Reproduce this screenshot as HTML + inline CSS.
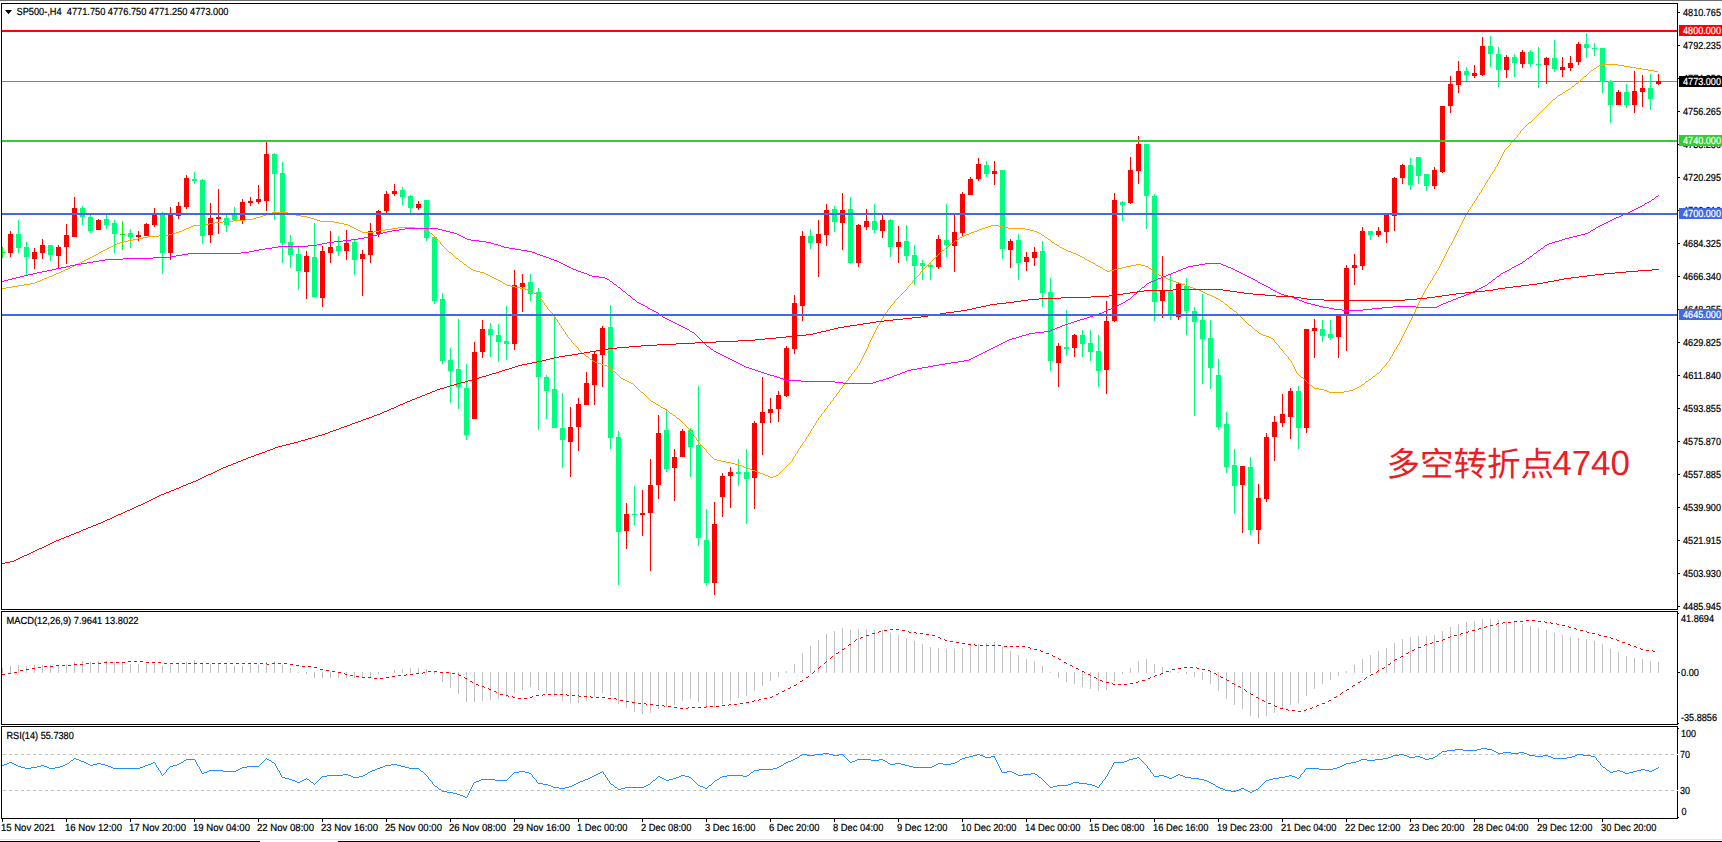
<!DOCTYPE html>
<html lang="zh"><head><meta charset="utf-8"><title>SP500-,H4</title>
<style>html,body{margin:0;padding:0;background:#fff;overflow:hidden}svg{display:block}text{font-family:"Liberation Sans","Noto Sans CJK SC",sans-serif;font-size:10.2px;white-space:pre;text-rendering:geometricPrecision}.ann{font-size:34px;font-family:"Liberation Sans","Noto Sans CJK SC",sans-serif}</style></head><body>
<svg width="1722" height="842" viewBox="0 0 1722 842">
<rect x="0" y="0" width="1722" height="842" fill="#fff"/>
<g shape-rendering="crispEdges">
<rect x="0" y="0" width="1722" height="1" fill="#6e6e6e"/>
<rect x="0" y="839" width="1722" height="1" fill="#e3e3e3"/>
<rect x="0" y="841" width="260" height="1" fill="#000"/>
<rect x="338" y="841" width="1384" height="1" fill="#000"/>
<rect x="2" y="81" width="1675" height="1" fill="#778899"/>
<g id="candles">
<path fill="#00ff00" d="M2 247h1v11h-1zM2 252h3v1h-3z"/>
<path fill="#ff0000" d="M10 231h1v26h-1zM8 234h5v19h-5z"/>
<path fill="#00ff7f" d="M18 220h1v33h-1zM16 234h5v14h-5z"/>
<path fill="#00ff7f" d="M26 242h1v33h-1zM24 247h5v10h-5z"/>
<path fill="#ff0000" d="M34 248h1v21h-1zM32 252h5v7h-5z"/>
<path fill="#ff0000" d="M42 239h1v20h-1zM40 245h5v8h-5z"/>
<path fill="#00ff7f" d="M50 245h1v16h-1zM48 245h5v10h-5z"/>
<path fill="#ff0000" d="M58 245h1v24h-1zM56 247h5v9h-5z"/>
<path fill="#ff0000" d="M66 224h1v40h-1zM64 235h5v12h-5z"/>
<path fill="#ff0000" d="M74 197h1v40h-1zM72 208h5v29h-5z"/>
<path fill="#00ff7f" d="M82 206h1v19h-1zM80 208h5v9h-5z"/>
<path fill="#00ff7f" d="M90 215h1v18h-1zM88 217h5v14h-5z"/>
<path fill="#ff0000" d="M98 219h1v11h-1zM96 220h5v10h-5z"/>
<path fill="#00ff7f" d="M106 215h1v14h-1zM104 219h5v6h-5z"/>
<path fill="#00ff7f" d="M114 220h1v33h-1zM112 223h5v11h-5z"/>
<path fill="#00ff00" d="M122 221h1v29h-1zM120 234h5v1h-5z"/>
<path fill="#00ff7f" d="M130 229h1v19h-1zM128 233h5v4h-5z"/>
<path fill="#ff0000" d="M138 231h1v10h-1zM136 235h5v2h-5z"/>
<path fill="#ff0000" d="M146 223h1v13h-1zM144 224h5v12h-5z"/>
<path fill="#ff0000" d="M154 208h1v19h-1zM152 215h5v10h-5z"/>
<path fill="#00ff7f" d="M162 212h1v62h-1zM160 215h5v38h-5z"/>
<path fill="#ff0000" d="M170 207h1v53h-1zM168 215h5v38h-5z"/>
<path fill="#ff0000" d="M178 202h1v17h-1zM176 206h5v10h-5z"/>
<path fill="#ff0000" d="M186 175h1v34h-1zM184 178h5v29h-5z"/>
<path fill="#00ff7f" d="M194 172h1v12h-1zM192 179h5v2h-5z"/>
<path fill="#00ff7f" d="M202 179h1v65h-1zM200 180h5v56h-5z"/>
<path fill="#ff0000" d="M210 203h1v40h-1zM208 218h5v17h-5z"/>
<path fill="#ff0000" d="M218 189h1v45h-1zM216 217h5v2h-5z"/>
<path fill="#00ff7f" d="M226 215h1v17h-1zM224 218h5v7h-5z"/>
<path fill="#00ff7f" d="M234 207h1v13h-1zM232 214h5v6h-5z"/>
<path fill="#ff0000" d="M242 199h1v25h-1zM240 202h5v18h-5z"/>
<path fill="#ff0000" d="M250 197h1v9h-1zM248 201h5v2h-5z"/>
<path fill="#ff0000" d="M258 185h1v19h-1zM256 199h5v3h-5z"/>
<path fill="#ff0000" d="M266 142h1v69h-1zM264 154h5v47h-5z"/>
<path fill="#00ff7f" d="M274 153h1v67h-1zM272 154h5v20h-5z"/>
<path fill="#00ff7f" d="M282 162h1v101h-1zM280 173h5v70h-5z"/>
<path fill="#00ff7f" d="M290 235h1v33h-1zM288 242h5v13h-5z"/>
<path fill="#00ff7f" d="M298 247h1v43h-1zM296 254h5v17h-5z"/>
<path fill="#ff0000" d="M306 251h1v48h-1zM304 256h5v16h-5z"/>
<path fill="#00ff7f" d="M314 223h1v75h-1zM312 257h5v40h-5z"/>
<path fill="#ff0000" d="M322 246h1v61h-1zM320 251h5v47h-5z"/>
<path fill="#ff0000" d="M330 231h1v32h-1zM328 247h5v6h-5z"/>
<path fill="#00ff7f" d="M338 236h1v20h-1zM336 246h5v5h-5z"/>
<path fill="#ff0000" d="M346 230h1v30h-1zM344 243h5v8h-5z"/>
<path fill="#00ff7f" d="M354 239h1v36h-1zM352 242h5v18h-5z"/>
<path fill="#ff0000" d="M362 250h1v46h-1zM360 254h5v5h-5z"/>
<path fill="#ff0000" d="M370 223h1v40h-1zM368 231h5v24h-5z"/>
<path fill="#ff0000" d="M378 210h1v27h-1zM376 211h5v23h-5z"/>
<path fill="#ff0000" d="M386 191h1v22h-1zM384 194h5v17h-5z"/>
<path fill="#ff0000" d="M394 184h1v12h-1zM392 191h5v3h-5z"/>
<path fill="#00ff7f" d="M402 187h1v18h-1zM400 190h5v7h-5z"/>
<path fill="#00ff7f" d="M410 195h1v18h-1zM408 196h5v12h-5z"/>
<path fill="#ff0000" d="M418 201h1v9h-1zM416 204h5v4h-5z"/>
<path fill="#00ff7f" d="M426 200h1v41h-1zM424 200h5v38h-5z"/>
<path fill="#00ff7f" d="M434 237h1v67h-1zM432 237h5v64h-5z"/>
<path fill="#00ff7f" d="M442 293h1v71h-1zM440 299h5v62h-5z"/>
<path fill="#00ff7f" d="M450 348h1v55h-1zM448 360h5v11h-5z"/>
<path fill="#00ff7f" d="M458 319h1v90h-1zM456 369h5v18h-5z"/>
<path fill="#00ff7f" d="M466 364h1v76h-1zM464 388h5v47h-5z"/>
<path fill="#ff0000" d="M474 342h1v77h-1zM472 352h5v67h-5z"/>
<path fill="#ff0000" d="M482 320h1v38h-1zM480 329h5v23h-5z"/>
<path fill="#00ff7f" d="M490 323h1v34h-1zM488 329h5v6h-5z"/>
<path fill="#00ff7f" d="M498 324h1v38h-1zM496 335h5v7h-5z"/>
<path fill="#00ff7f" d="M506 306h1v54h-1zM504 341h5v3h-5z"/>
<path fill="#ff0000" d="M514 270h1v80h-1zM512 285h5v59h-5z"/>
<path fill="#ff0000" d="M522 274h1v38h-1zM520 283h5v4h-5z"/>
<path fill="#00ff7f" d="M530 274h1v27h-1zM528 282h5v12h-5z"/>
<path fill="#00ff7f" d="M538 288h1v142h-1zM536 292h5v85h-5z"/>
<path fill="#00ff7f" d="M546 375h1v44h-1zM544 377h5v14h-5z"/>
<path fill="#00ff7f" d="M554 316h1v112h-1zM552 389h5v39h-5z"/>
<path fill="#00ff7f" d="M562 393h1v75h-1zM560 428h5v12h-5z"/>
<path fill="#ff0000" d="M570 407h1v70h-1zM568 427h5v15h-5z"/>
<path fill="#ff0000" d="M578 398h1v53h-1zM576 404h5v23h-5z"/>
<path fill="#ff0000" d="M586 372h1v33h-1zM584 383h5v22h-5z"/>
<path fill="#ff0000" d="M594 352h1v53h-1zM592 354h5v31h-5z"/>
<path fill="#ff0000" d="M602 326h1v61h-1zM600 328h5v27h-5z"/>
<path fill="#00ff7f" d="M610 305h1v144h-1zM608 327h5v111h-5z"/>
<path fill="#00ff7f" d="M618 431h1v154h-1zM616 437h5v95h-5z"/>
<path fill="#ff0000" d="M626 503h1v46h-1zM624 514h5v17h-5z"/>
<path fill="#00ff7f" d="M634 486h1v39h-1zM632 514h5v1h-5z"/>
<path fill="#ff0000" d="M642 490h1v46h-1zM640 513h5v2h-5z"/>
<path fill="#ff0000" d="M650 459h1v112h-1zM648 485h5v28h-5z"/>
<path fill="#ff0000" d="M658 415h1v84h-1zM656 433h5v52h-5z"/>
<path fill="#00ff7f" d="M666 409h1v63h-1zM664 430h5v39h-5z"/>
<path fill="#ff0000" d="M674 449h1v52h-1zM672 457h5v11h-5z"/>
<path fill="#ff0000" d="M682 429h1v28h-1zM680 431h5v26h-5z"/>
<path fill="#00ff7f" d="M690 428h1v49h-1zM688 430h5v17h-5z"/>
<path fill="#00ff7f" d="M698 386h1v160h-1zM696 445h5v93h-5z"/>
<path fill="#00ff7f" d="M706 509h1v77h-1zM704 540h5v43h-5z"/>
<path fill="#ff0000" d="M714 502h1v93h-1zM712 524h5v59h-5z"/>
<path fill="#ff0000" d="M722 473h1v44h-1zM720 476h5v21h-5z"/>
<path fill="#ff0000" d="M730 467h1v41h-1zM728 472h5v4h-5z"/>
<path fill="#00ff7f" d="M738 459h1v27h-1zM736 472h5v2h-5z"/>
<path fill="#00ff7f" d="M746 449h1v75h-1zM744 472h5v7h-5z"/>
<path fill="#ff0000" d="M754 421h1v88h-1zM752 423h5v55h-5z"/>
<path fill="#ff0000" d="M762 377h1v78h-1zM760 412h5v11h-5z"/>
<path fill="#ff0000" d="M770 398h1v25h-1zM768 409h5v4h-5z"/>
<path fill="#ff0000" d="M778 391h1v31h-1zM776 395h5v14h-5z"/>
<path fill="#ff0000" d="M786 346h1v51h-1zM784 348h5v48h-5z"/>
<path fill="#ff0000" d="M794 295h1v59h-1zM792 303h5v46h-5z"/>
<path fill="#ff0000" d="M802 231h1v90h-1zM800 236h5v70h-5z"/>
<path fill="#00ff7f" d="M810 229h1v20h-1zM808 236h5v7h-5z"/>
<path fill="#ff0000" d="M818 220h1v57h-1zM816 234h5v9h-5z"/>
<path fill="#ff0000" d="M826 204h1v42h-1zM824 210h5v25h-5z"/>
<path fill="#00ff7f" d="M834 206h1v26h-1zM832 209h5v13h-5z"/>
<path fill="#ff0000" d="M842 193h1v57h-1zM840 210h5v13h-5z"/>
<path fill="#00ff7f" d="M850 197h1v67h-1zM848 209h5v54h-5z"/>
<path fill="#ff0000" d="M858 224h1v43h-1zM856 225h5v38h-5z"/>
<path fill="#ff0000" d="M866 209h1v21h-1zM864 221h5v6h-5z"/>
<path fill="#00ff7f" d="M874 204h1v29h-1zM872 221h5v9h-5z"/>
<path fill="#ff0000" d="M882 215h1v23h-1zM880 220h5v11h-5z"/>
<path fill="#00ff7f" d="M890 219h1v38h-1zM888 220h5v27h-5z"/>
<path fill="#ff0000" d="M898 226h1v37h-1zM896 242h5v5h-5z"/>
<path fill="#00ff7f" d="M906 225h1v36h-1zM904 241h5v15h-5z"/>
<path fill="#00ff7f" d="M914 245h1v40h-1zM912 255h5v11h-5z"/>
<path fill="#00ff7f" d="M922 260h1v20h-1zM920 263h5v3h-5z"/>
<path fill="#00ff7f" d="M930 263h1v17h-1zM928 265h5v2h-5z"/>
<path fill="#ff0000" d="M938 235h1v34h-1zM936 239h5v28h-5z"/>
<path fill="#00ff7f" d="M946 204h1v53h-1zM944 240h5v5h-5z"/>
<path fill="#ff0000" d="M954 215h1v57h-1zM952 232h5v14h-5z"/>
<path fill="#ff0000" d="M962 192h1v44h-1zM960 194h5v39h-5z"/>
<path fill="#ff0000" d="M970 177h1v18h-1zM968 179h5v16h-5z"/>
<path fill="#ff0000" d="M978 158h1v23h-1zM976 164h5v15h-5z"/>
<path fill="#00ff7f" d="M986 161h1v16h-1zM984 165h5v9h-5z"/>
<path fill="#ff0000" d="M994 161h1v24h-1zM992 171h5v3h-5z"/>
<path fill="#00ff7f" d="M1002 170h1v89h-1zM1000 170h5v79h-5z"/>
<path fill="#ff0000" d="M1010 239h1v29h-1zM1008 241h5v9h-5z"/>
<path fill="#00ff7f" d="M1018 234h1v46h-1zM1016 240h5v23h-5z"/>
<path fill="#ff0000" d="M1026 252h1v19h-1zM1024 257h5v5h-5z"/>
<path fill="#ff0000" d="M1034 247h1v19h-1zM1032 252h5v6h-5z"/>
<path fill="#00ff7f" d="M1042 241h1v66h-1zM1040 251h5v42h-5z"/>
<path fill="#00ff7f" d="M1050 278h1v93h-1zM1048 292h5v69h-5z"/>
<path fill="#ff0000" d="M1058 343h1v44h-1zM1056 346h5v17h-5z"/>
<path fill="#00ff7f" d="M1066 310h1v45h-1zM1064 347h5v2h-5z"/>
<path fill="#ff0000" d="M1074 334h1v23h-1zM1072 335h5v13h-5z"/>
<path fill="#00ff7f" d="M1082 330h1v27h-1zM1080 335h5v9h-5z"/>
<path fill="#00ff7f" d="M1090 330h1v31h-1zM1088 343h5v9h-5z"/>
<path fill="#00ff7f" d="M1098 335h1v52h-1zM1096 351h5v20h-5z"/>
<path fill="#ff0000" d="M1106 301h1v93h-1zM1104 321h5v49h-5z"/>
<path fill="#ff0000" d="M1114 193h1v129h-1zM1112 200h5v121h-5z"/>
<path fill="#00ff7f" d="M1122 201h1v20h-1zM1120 202h5v3h-5z"/>
<path fill="#ff0000" d="M1130 157h1v47h-1zM1128 170h5v33h-5z"/>
<path fill="#ff0000" d="M1138 136h1v48h-1zM1136 144h5v27h-5z"/>
<path fill="#00ff7f" d="M1146 144h1v85h-1zM1144 144h5v52h-5z"/>
<path fill="#00ff7f" d="M1154 194h1v127h-1zM1152 196h5v106h-5z"/>
<path fill="#ff0000" d="M1162 256h1v62h-1zM1160 290h5v11h-5z"/>
<path fill="#00ff7f" d="M1170 274h1v46h-1zM1168 291h5v24h-5z"/>
<path fill="#ff0000" d="M1178 283h1v37h-1zM1176 284h5v33h-5z"/>
<path fill="#00ff7f" d="M1186 278h1v57h-1zM1184 286h5v25h-5z"/>
<path fill="#00ff7f" d="M1194 307h1v109h-1zM1192 311h5v11h-5z"/>
<path fill="#00ff7f" d="M1202 294h1v90h-1zM1200 320h5v19h-5z"/>
<path fill="#00ff7f" d="M1210 320h1v69h-1zM1208 338h5v30h-5z"/>
<path fill="#00ff7f" d="M1218 359h1v71h-1zM1216 375h5v52h-5z"/>
<path fill="#00ff7f" d="M1226 412h1v61h-1zM1224 424h5v43h-5z"/>
<path fill="#00ff7f" d="M1234 449h1v65h-1zM1232 465h5v21h-5z"/>
<path fill="#ff0000" d="M1242 466h1v67h-1zM1240 466h5v19h-5z"/>
<path fill="#00ff7f" d="M1250 457h1v78h-1zM1248 467h5v63h-5z"/>
<path fill="#ff0000" d="M1258 484h1v60h-1zM1256 498h5v32h-5z"/>
<path fill="#ff0000" d="M1266 433h1v69h-1zM1264 437h5v62h-5z"/>
<path fill="#ff0000" d="M1274 416h1v45h-1zM1272 422h5v15h-5z"/>
<path fill="#ff0000" d="M1282 394h1v33h-1zM1280 414h5v9h-5z"/>
<path fill="#ff0000" d="M1290 388h1v51h-1zM1288 391h5v26h-5z"/>
<path fill="#00ff7f" d="M1298 386h1v63h-1zM1296 391h5v37h-5z"/>
<path fill="#ff0000" d="M1306 329h1v104h-1zM1304 329h5v99h-5z"/>
<path fill="#ff0000" d="M1314 319h1v39h-1zM1312 328h5v3h-5z"/>
<path fill="#00ff7f" d="M1322 320h1v22h-1zM1320 329h5v7h-5z"/>
<path fill="#00ff7f" d="M1330 320h1v20h-1zM1328 334h5v4h-5z"/>
<path fill="#ff0000" d="M1338 315h1v43h-1zM1336 315h5v22h-5z"/>
<path fill="#ff0000" d="M1346 265h1v86h-1zM1344 268h5v46h-5z"/>
<path fill="#ff0000" d="M1354 254h1v31h-1zM1352 265h5v3h-5z"/>
<path fill="#ff0000" d="M1362 227h1v43h-1zM1360 231h5v35h-5z"/>
<path fill="#00ff7f" d="M1370 231h1v9h-1zM1368 231h5v4h-5z"/>
<path fill="#ff0000" d="M1378 227h1v10h-1zM1376 231h5v4h-5z"/>
<path fill="#ff0000" d="M1386 214h1v29h-1zM1384 215h5v17h-5z"/>
<path fill="#ff0000" d="M1394 177h1v54h-1zM1392 178h5v38h-5z"/>
<path fill="#ff0000" d="M1402 164h1v20h-1zM1400 165h5v13h-5z"/>
<path fill="#00ff7f" d="M1410 158h1v32h-1zM1408 165h5v20h-5z"/>
<path fill="#00ff7f" d="M1418 157h1v27h-1zM1416 157h5v19h-5z"/>
<path fill="#00ff7f" d="M1426 174h1v17h-1zM1424 174h5v12h-5z"/>
<path fill="#ff0000" d="M1434 167h1v22h-1zM1432 170h5v16h-5z"/>
<path fill="#ff0000" d="M1442 106h1v67h-1zM1440 106h5v66h-5z"/>
<path fill="#ff0000" d="M1450 76h1v37h-1zM1448 84h5v22h-5z"/>
<path fill="#ff0000" d="M1458 61h1v32h-1zM1456 71h5v14h-5z"/>
<path fill="#00ff7f" d="M1466 67h1v14h-1zM1464 71h5v4h-5z"/>
<path fill="#ff0000" d="M1474 65h1v13h-1zM1472 73h5v3h-5z"/>
<path fill="#ff0000" d="M1482 37h1v39h-1zM1480 46h5v29h-5z"/>
<path fill="#00ff7f" d="M1490 36h1v31h-1zM1488 46h5v8h-5z"/>
<path fill="#00ff7f" d="M1498 47h1v40h-1zM1496 54h5v16h-5z"/>
<path fill="#ff0000" d="M1506 55h1v23h-1zM1504 57h5v13h-5z"/>
<path fill="#00ff7f" d="M1514 54h1v23h-1zM1512 57h5v6h-5z"/>
<path fill="#ff0000" d="M1522 50h1v18h-1zM1520 52h5v12h-5z"/>
<path fill="#00ff7f" d="M1530 50h1v17h-1zM1528 52h5v12h-5z"/>
<path fill="#00ff7f" d="M1538 47h1v41h-1zM1536 64h5v1h-5z"/>
<path fill="#ff0000" d="M1546 57h1v27h-1zM1544 58h5v7h-5z"/>
<path fill="#00ff7f" d="M1554 40h1v32h-1zM1552 58h5v11h-5z"/>
<path fill="#ff0000" d="M1562 57h1v20h-1zM1560 67h5v3h-5z"/>
<path fill="#ff0000" d="M1570 56h1v15h-1zM1568 63h5v5h-5z"/>
<path fill="#ff0000" d="M1578 42h1v23h-1zM1576 44h5v18h-5z"/>
<path fill="#00ff7f" d="M1586 33h1v25h-1zM1584 44h5v4h-5z"/>
<path fill="#00ff7f" d="M1594 43h1v13h-1zM1592 48h5v1h-5z"/>
<path fill="#00ff7f" d="M1602 48h1v45h-1zM1600 48h5v34h-5z"/>
<path fill="#00ff7f" d="M1610 80h1v43h-1zM1608 81h5v24h-5z"/>
<path fill="#ff0000" d="M1618 90h1v15h-1zM1616 92h5v13h-5z"/>
<path fill="#00ff7f" d="M1626 84h1v24h-1zM1624 92h5v13h-5z"/>
<path fill="#ff0000" d="M1634 71h1v42h-1zM1632 91h5v14h-5z"/>
<path fill="#ff0000" d="M1642 75h1v32h-1zM1640 88h5v4h-5z"/>
<path fill="#00ff7f" d="M1650 74h1v36h-1zM1648 88h5v11h-5z"/>
<path fill="#ff0000" d="M1658 74h1v11h-1zM1656 81h5v3h-5z"/>
</g>
<g id="ma">
<path fill="#ffa500" d="M1602 64h16v1h-16zM1599 65h3v1h-3zM1618 65h6v1h-6zM1597 66h2v1h-2zM1624 66h6v1h-6zM1630 67h6v1h-6zM1594 68h2v1h-2zM1636 68h6v1h-6zM1642 69h6v1h-6zM1591 70h2v1h-2zM1648 70h6v1h-6zM1654 71h4v1h-4zM1584 76h2v1h-2zM1576 83h2v1h-2zM1572 86h2v1h-2zM1568 89h2v1h-2zM1566 90h2v1h-2zM1563 92h2v1h-2zM1560 94h2v1h-2zM1558 95h2v1h-2zM1553 99h2v1h-2zM1529 122h2v1h-2zM272 212h16v1h-16zM269 213h3v1h-3zM288 213h4v1h-4zM266 214h3v1h-3zM292 214h4v1h-4zM263 215h3v1h-3zM296 215h5v1h-5zM260 216h3v1h-3zM301 216h6v1h-6zM256 217h4v1h-4zM307 217h4v1h-4zM253 218h3v1h-3zM311 218h3v1h-3zM245 219h8v1h-8zM314 219h3v1h-3zM233 220h12v1h-12zM317 220h3v1h-3zM223 221h10v1h-10zM320 221h14v1h-14zM215 222h8v1h-8zM334 222h5v1h-5zM209 223h6v1h-6zM339 223h5v1h-5zM205 224h4v1h-4zM344 224h4v1h-4zM193 225h12v1h-12zM348 225h2v1h-2zM991 225h8v1h-8zM191 226h2v1h-2zM350 226h2v1h-2zM988 226h3v1h-3zM999 226h4v1h-4zM189 227h2v1h-2zM352 227h2v1h-2zM398 227h17v1h-17zM985 227h3v1h-3zM1003 227h5v1h-5zM186 228h3v1h-3zM354 228h2v1h-2zM392 228h6v1h-6zM415 228h9v1h-9zM982 228h3v1h-3zM1008 228h17v1h-17zM184 229h2v1h-2zM356 229h2v1h-2zM385 229h7v1h-7zM424 229h2v1h-2zM979 229h3v1h-3zM1025 229h5v1h-5zM182 230h2v1h-2zM358 230h2v1h-2zM379 230h6v1h-6zM426 230h2v1h-2zM977 230h2v1h-2zM1030 230h4v1h-4zM179 231h3v1h-3zM360 231h2v1h-2zM374 231h5v1h-5zM974 231h3v1h-3zM1034 231h3v1h-3zM176 232h3v1h-3zM362 232h12v1h-12zM971 232h3v1h-3zM1037 232h2v1h-2zM172 233h4v1h-4zM430 233h2v1h-2zM969 233h2v1h-2zM1039 233h2v1h-2zM169 234h3v1h-3zM966 234h3v1h-3zM159 235h10v1h-10zM964 235h2v1h-2zM1042 235h2v1h-2zM148 236h11v1h-11zM962 236h2v1h-2zM143 237h5v1h-5zM960 237h2v1h-2zM1045 237h2v1h-2zM138 238h5v1h-5zM133 239h5v1h-5zM957 239h2v1h-2zM1048 239h2v1h-2zM128 240h5v1h-5zM955 240h2v1h-2zM124 241h4v1h-4zM120 242h4v1h-4zM1052 242h2v1h-2zM117 243h3v1h-3zM951 243h2v1h-2zM115 244h2v1h-2zM1055 244h2v1h-2zM113 245h2v1h-2zM1057 245h2v1h-2zM111 246h2v1h-2zM109 247h2v1h-2zM946 247h2v1h-2zM1060 247h2v1h-2zM107 248h2v1h-2zM1062 248h2v1h-2zM105 249h2v1h-2zM1064 249h2v1h-2zM103 250h2v1h-2zM942 250h2v1h-2zM1066 250h2v1h-2zM101 251h2v1h-2zM1068 251h3v1h-3zM99 252h2v1h-2zM449 252h2v1h-2zM1071 252h2v1h-2zM1073 253h3v1h-3zM96 254h2v1h-2zM1076 254h2v1h-2zM94 255h2v1h-2zM1078 255h2v1h-2zM92 256h2v1h-2zM1080 256h2v1h-2zM90 257h2v1h-2zM1082 257h2v1h-2zM88 258h2v1h-2zM456 258h2v1h-2zM86 259h2v1h-2zM1085 259h2v1h-2zM84 260h2v1h-2zM1087 260h2v1h-2zM82 261h2v1h-2zM460 261h2v1h-2zM1089 261h2v1h-2zM80 262h2v1h-2zM1091 262h2v1h-2zM78 263h2v1h-2zM1093 263h2v1h-2zM76 264h2v1h-2zM464 264h2v1h-2zM1136 264h5v1h-5zM74 265h2v1h-2zM1096 265h2v1h-2zM1131 265h5v1h-5zM1141 265h4v1h-4zM72 266h2v1h-2zM1098 266h2v1h-2zM1126 266h5v1h-5zM1145 266h3v1h-3zM70 267h2v1h-2zM468 267h2v1h-2zM1100 267h2v1h-2zM1122 267h4v1h-4zM68 268h2v1h-2zM1118 268h4v1h-4zM1149 268h2v1h-2zM65 269h3v1h-3zM471 269h2v1h-2zM1103 269h2v1h-2zM1114 269h4v1h-4zM63 270h2v1h-2zM473 270h3v1h-3zM1105 270h2v1h-2zM1110 270h4v1h-4zM61 271h2v1h-2zM476 271h4v1h-4zM1107 271h3v1h-3zM59 272h2v1h-2zM480 272h4v1h-4zM1154 272h2v1h-2zM56 273h3v1h-3zM484 273h2v1h-2zM54 274h2v1h-2zM486 274h2v1h-2zM1157 274h2v1h-2zM52 275h2v1h-2zM488 275h2v1h-2zM1159 275h2v1h-2zM49 276h3v1h-3zM490 276h2v1h-2zM1161 276h3v1h-3zM47 277h2v1h-2zM492 277h2v1h-2zM1164 277h2v1h-2zM44 278h3v1h-3zM494 278h2v1h-2zM1166 278h2v1h-2zM42 279h2v1h-2zM496 279h2v1h-2zM1168 279h3v1h-3zM40 280h2v1h-2zM498 280h2v1h-2zM1171 280h2v1h-2zM37 281h3v1h-3zM500 281h2v1h-2zM1173 281h3v1h-3zM35 282h2v1h-2zM1176 282h3v1h-3zM30 283h5v1h-5zM503 283h2v1h-2zM1179 283h3v1h-3zM24 284h6v1h-6zM505 284h2v1h-2zM1182 284h3v1h-3zM18 285h6v1h-6zM507 285h4v1h-4zM1185 285h2v1h-2zM12 286h6v1h-6zM511 286h4v1h-4zM1187 286h3v1h-3zM6 287h6v1h-6zM515 287h5v1h-5zM1190 287h3v1h-3zM2 288h4v1h-4zM520 288h5v1h-5zM1193 288h3v1h-3zM525 289h4v1h-4zM1196 289h3v1h-3zM529 290h2v1h-2zM1199 290h2v1h-2zM531 291h2v1h-2zM1201 291h2v1h-2zM1203 292h2v1h-2zM534 293h2v1h-2zM1205 293h2v1h-2zM1207 294h3v1h-3zM537 295h2v1h-2zM1210 295h2v1h-2zM1212 296h2v1h-2zM1214 297h2v1h-2zM1216 298h2v1h-2zM1218 299h2v1h-2zM1221 301h2v1h-2zM1225 304h2v1h-2zM1230 308h2v1h-2zM1234 311h2v1h-2zM1249 325h2v1h-2zM1255 330h2v1h-2zM1259 333h2v1h-2zM1261 334h2v1h-2zM1263 335h3v1h-3zM1266 336h3v1h-3zM1269 337h2v1h-2zM1271 338h2v1h-2zM582 353h2v1h-2zM586 356h2v1h-2zM590 359h2v1h-2zM593 361h2v1h-2zM595 362h3v1h-3zM598 363h3v1h-3zM601 364h3v1h-3zM604 365h3v1h-3zM607 366h2v1h-2zM613 371h2v1h-2zM1377 373h2v1h-2zM1373 376h2v1h-2zM1301 377h2v1h-2zM621 378h2v1h-2zM623 379h2v1h-2zM1369 379h2v1h-2zM625 380h2v1h-2zM627 381h2v1h-2zM1366 381h2v1h-2zM629 382h2v1h-2zM631 383h2v1h-2zM1362 384h2v1h-2zM1310 385h2v1h-2zM1359 386h2v1h-2zM1357 387h2v1h-2zM1314 388h5v1h-5zM1355 388h2v1h-2zM1319 389h5v1h-5zM1353 389h2v1h-2zM1324 390h3v1h-3zM1349 390h4v1h-4zM1327 391h2v1h-2zM1344 391h5v1h-5zM641 392h2v1h-2zM1329 392h15v1h-15zM651 401h2v1h-2zM653 402h2v1h-2zM656 404h2v1h-2zM658 405h2v1h-2zM661 407h2v1h-2zM663 408h2v1h-2zM666 410h2v1h-2zM670 413h2v1h-2zM673 415h2v1h-2zM677 418h2v1h-2zM714 459h3v1h-3zM717 460h4v1h-4zM721 461h5v1h-5zM726 462h5v1h-5zM731 463h4v1h-4zM735 464h4v1h-4zM739 465h3v1h-3zM742 466h2v1h-2zM744 467h3v1h-3zM747 468h3v1h-3zM750 469h2v1h-2zM752 470h3v1h-3zM755 471h3v1h-3zM758 472h2v1h-2zM760 473h3v1h-3zM763 474h2v1h-2zM765 475h3v1h-3zM776 475h2v1h-2zM768 476h2v1h-2zM773 476h3v1h-3zM770 477h3v1h-3zM98 253h1v1h-1zM428 231h1v1h-1zM429 232h1v1h-1zM432 234h1v1h-1zM433 235h1v1h-1zM434 236h1v1h-1zM435 237h1v1h-1zM436 238h1v1h-1zM437 239h1v1h-1zM438 240h1v1h-1zM439 241h1v1h-1zM440 242h1v2h-1zM441 244h1v1h-1zM442 245h1v1h-1zM443 246h1v1h-1zM444 247h1v1h-1zM445 248h1v1h-1zM446 249h1v1h-1zM447 250h1v1h-1zM448 251h1v1h-1zM451 253h1v1h-1zM452 254h1v1h-1zM453 255h1v1h-1zM454 256h1v1h-1zM455 257h1v1h-1zM458 259h1v1h-1zM459 260h1v1h-1zM462 262h1v1h-1zM463 263h1v1h-1zM466 265h1v1h-1zM467 266h1v1h-1zM470 268h1v1h-1zM502 282h1v1h-1zM533 292h1v1h-1zM536 294h1v1h-1zM539 296h1v1h-1zM540 297h1v2h-1zM541 299h1v1h-1zM542 300h1v2h-1zM543 302h1v1h-1zM544 303h1v2h-1zM545 305h1v1h-1zM546 306h1v1h-1zM547 307h1v2h-1zM548 309h1v1h-1zM549 310h1v1h-1zM550 311h1v1h-1zM551 312h1v1h-1zM552 313h1v2h-1zM553 315h1v1h-1zM554 316h1v1h-1zM555 317h1v2h-1zM556 319h1v1h-1zM557 320h1v2h-1zM558 322h1v1h-1zM559 323h1v2h-1zM560 325h1v1h-1zM561 326h1v2h-1zM562 328h1v1h-1zM563 329h1v2h-1zM564 331h1v1h-1zM565 332h1v2h-1zM566 334h1v1h-1zM567 335h1v2h-1zM568 337h1v1h-1zM569 338h1v1h-1zM570 339h1v1h-1zM571 340h1v2h-1zM572 342h1v1h-1zM573 343h1v1h-1zM574 344h1v1h-1zM575 345h1v1h-1zM576 346h1v1h-1zM577 347h1v1h-1zM578 348h1v2h-1zM579 350h1v1h-1zM580 351h1v1h-1zM581 352h1v1h-1zM584 354h1v1h-1zM585 355h1v1h-1zM588 357h1v1h-1zM589 358h1v1h-1zM592 360h1v1h-1zM609 367h1v1h-1zM610 368h1v1h-1zM611 369h1v1h-1zM612 370h1v1h-1zM615 372h1v1h-1zM616 373h1v1h-1zM617 374h1v1h-1zM618 375h1v1h-1zM619 376h1v1h-1zM620 377h1v1h-1zM633 384h1v1h-1zM634 385h1v1h-1zM635 386h1v1h-1zM636 387h1v1h-1zM637 388h1v1h-1zM638 389h1v1h-1zM639 390h1v1h-1zM640 391h1v1h-1zM643 393h1v1h-1zM644 394h1v1h-1zM645 395h1v1h-1zM646 396h1v1h-1zM647 397h1v1h-1zM648 398h1v1h-1zM649 399h1v1h-1zM650 400h1v1h-1zM655 403h1v1h-1zM660 406h1v1h-1zM665 409h1v1h-1zM668 411h1v1h-1zM669 412h1v1h-1zM672 414h1v1h-1zM675 416h1v1h-1zM676 417h1v1h-1zM679 419h1v1h-1zM680 420h1v1h-1zM681 421h1v1h-1zM682 422h1v1h-1zM683 423h1v1h-1zM684 424h1v1h-1zM685 425h1v1h-1zM686 426h1v1h-1zM687 427h1v1h-1zM688 428h1v1h-1zM689 429h1v1h-1zM690 430h1v1h-1zM691 431h1v2h-1zM692 433h1v1h-1zM693 434h1v2h-1zM694 436h1v1h-1zM695 437h1v1h-1zM696 438h1v2h-1zM697 440h1v1h-1zM698 441h1v2h-1zM699 443h1v1h-1zM700 444h1v1h-1zM701 445h1v1h-1zM702 446h1v1h-1zM703 447h1v1h-1zM704 448h1v1h-1zM705 449h1v1h-1zM706 450h1v2h-1zM707 452h1v1h-1zM708 453h1v1h-1zM709 454h1v1h-1zM710 455h1v1h-1zM711 456h1v1h-1zM712 457h1v1h-1zM713 458h1v1h-1zM778 474h1v1h-1zM779 473h1v1h-1zM780 472h1v1h-1zM781 471h1v1h-1zM782 470h1v1h-1zM783 469h1v1h-1zM784 468h1v1h-1zM785 467h1v1h-1zM786 466h1v1h-1zM787 465h1v1h-1zM788 464h1v1h-1zM789 463h1v1h-1zM790 462h1v1h-1zM791 461h1v1h-1zM792 459h1v2h-1zM793 457h1v2h-1zM794 456h1v1h-1zM795 454h1v2h-1zM796 453h1v1h-1zM797 451h1v2h-1zM798 449h1v2h-1zM799 448h1v1h-1zM800 446h1v2h-1zM801 445h1v1h-1zM802 443h1v2h-1zM803 442h1v1h-1zM804 441h1v1h-1zM805 439h1v2h-1zM806 437h1v2h-1zM807 436h1v1h-1zM808 434h1v2h-1zM809 433h1v1h-1zM810 431h1v2h-1zM811 429h1v2h-1zM812 428h1v1h-1zM813 426h1v2h-1zM814 425h1v1h-1zM815 423h1v2h-1zM816 421h1v2h-1zM817 420h1v1h-1zM818 418h1v2h-1zM819 417h1v1h-1zM820 416h1v1h-1zM821 414h1v2h-1zM822 413h1v1h-1zM823 412h1v1h-1zM824 410h1v2h-1zM825 409h1v1h-1zM826 408h1v1h-1zM827 406h1v2h-1zM828 405h1v1h-1zM829 404h1v1h-1zM830 402h1v2h-1zM831 401h1v1h-1zM832 400h1v1h-1zM833 398h1v2h-1zM834 397h1v1h-1zM835 396h1v1h-1zM836 394h1v2h-1zM837 393h1v1h-1zM838 392h1v1h-1zM839 390h1v2h-1zM840 389h1v1h-1zM841 388h1v1h-1zM842 386h1v2h-1zM843 385h1v1h-1zM844 384h1v1h-1zM845 382h1v2h-1zM846 381h1v1h-1zM847 380h1v1h-1zM848 378h1v2h-1zM849 377h1v1h-1zM850 376h1v1h-1zM851 374h1v2h-1zM852 373h1v1h-1zM853 372h1v1h-1zM854 370h1v2h-1zM855 369h1v1h-1zM856 368h1v1h-1zM857 366h1v2h-1zM858 365h1v1h-1zM859 363h1v2h-1zM860 361h1v2h-1zM861 359h1v2h-1zM862 357h1v2h-1zM863 355h1v2h-1zM864 353h1v2h-1zM865 351h1v2h-1zM866 349h1v2h-1zM867 347h1v2h-1zM868 344h1v3h-1zM869 342h1v2h-1zM870 340h1v2h-1zM871 338h1v2h-1zM872 336h1v2h-1zM873 334h1v2h-1zM874 332h1v2h-1zM875 330h1v2h-1zM876 328h1v2h-1zM877 326h1v2h-1zM878 325h1v1h-1zM879 323h1v2h-1zM880 321h1v2h-1zM881 319h1v2h-1zM882 318h1v1h-1zM883 316h1v2h-1zM884 314h1v2h-1zM885 313h1v1h-1zM886 312h1v1h-1zM887 310h1v2h-1zM888 309h1v1h-1zM889 308h1v1h-1zM890 306h1v2h-1zM891 305h1v1h-1zM892 304h1v1h-1zM893 303h1v1h-1zM894 301h1v2h-1zM895 300h1v1h-1zM896 299h1v1h-1zM897 298h1v1h-1zM898 297h1v1h-1zM899 296h1v1h-1zM900 295h1v1h-1zM901 294h1v1h-1zM902 293h1v1h-1zM903 292h1v1h-1zM904 291h1v1h-1zM905 290h1v1h-1zM906 289h1v1h-1zM907 287h1v2h-1zM908 286h1v1h-1zM909 285h1v1h-1zM910 284h1v1h-1zM911 283h1v1h-1zM912 281h1v2h-1zM913 280h1v1h-1zM914 279h1v1h-1zM915 278h1v1h-1zM916 277h1v1h-1zM917 276h1v1h-1zM918 275h1v1h-1zM919 274h1v1h-1zM920 272h1v2h-1zM921 271h1v1h-1zM922 270h1v1h-1zM923 269h1v1h-1zM924 268h1v1h-1zM925 267h1v1h-1zM926 266h1v1h-1zM927 265h1v1h-1zM928 264h1v1h-1zM929 263h1v1h-1zM930 262h1v1h-1zM931 261h1v1h-1zM932 260h1v1h-1zM933 259h1v1h-1zM934 258h1v1h-1zM935 257h1v1h-1zM936 256h1v1h-1zM937 255h1v1h-1zM938 254h1v1h-1zM939 253h1v1h-1zM940 252h1v1h-1zM941 251h1v1h-1zM944 249h1v1h-1zM945 248h1v1h-1zM948 246h1v1h-1zM949 245h1v1h-1zM950 244h1v1h-1zM953 242h1v1h-1zM954 241h1v1h-1zM959 238h1v1h-1zM1041 234h1v1h-1zM1044 236h1v1h-1zM1047 238h1v1h-1zM1050 240h1v1h-1zM1051 241h1v1h-1zM1054 243h1v1h-1zM1059 246h1v1h-1zM1084 258h1v1h-1zM1095 264h1v1h-1zM1102 268h1v1h-1zM1148 267h1v1h-1zM1151 269h1v1h-1zM1152 270h1v1h-1zM1153 271h1v1h-1zM1156 273h1v1h-1zM1220 300h1v1h-1zM1223 302h1v1h-1zM1224 303h1v1h-1zM1227 305h1v1h-1zM1228 306h1v1h-1zM1229 307h1v1h-1zM1232 309h1v1h-1zM1233 310h1v1h-1zM1236 312h1v1h-1zM1237 313h1v1h-1zM1238 314h1v1h-1zM1239 315h1v1h-1zM1240 316h1v1h-1zM1241 317h1v1h-1zM1242 318h1v1h-1zM1243 319h1v1h-1zM1244 320h1v1h-1zM1245 321h1v1h-1zM1246 322h1v1h-1zM1247 323h1v1h-1zM1248 324h1v1h-1zM1251 326h1v1h-1zM1252 327h1v1h-1zM1253 328h1v1h-1zM1254 329h1v1h-1zM1257 331h1v1h-1zM1258 332h1v1h-1zM1273 339h1v1h-1zM1274 340h1v2h-1zM1275 342h1v1h-1zM1276 343h1v1h-1zM1277 344h1v1h-1zM1278 345h1v1h-1zM1279 346h1v2h-1zM1280 348h1v1h-1zM1281 349h1v1h-1zM1282 350h1v1h-1zM1283 351h1v2h-1zM1284 353h1v1h-1zM1285 354h1v1h-1zM1286 355h1v1h-1zM1287 356h1v1h-1zM1288 357h1v2h-1zM1289 359h1v1h-1zM1290 360h1v1h-1zM1291 361h1v2h-1zM1292 363h1v2h-1zM1293 365h1v2h-1zM1294 367h1v2h-1zM1295 369h1v2h-1zM1296 371h1v2h-1zM1297 373h1v1h-1zM1298 374h1v1h-1zM1299 375h1v1h-1zM1300 376h1v1h-1zM1303 378h1v1h-1zM1304 379h1v1h-1zM1305 380h1v1h-1zM1306 381h1v1h-1zM1307 382h1v1h-1zM1308 383h1v1h-1zM1309 384h1v1h-1zM1312 386h1v1h-1zM1313 387h1v1h-1zM1361 385h1v1h-1zM1364 383h1v1h-1zM1365 382h1v1h-1zM1368 380h1v1h-1zM1371 378h1v1h-1zM1372 377h1v1h-1zM1375 375h1v1h-1zM1376 374h1v1h-1zM1379 372h1v1h-1zM1380 371h1v1h-1zM1381 369h1v2h-1zM1382 368h1v1h-1zM1383 367h1v1h-1zM1384 366h1v1h-1zM1385 365h1v1h-1zM1386 363h1v2h-1zM1387 362h1v1h-1zM1388 361h1v1h-1zM1389 359h1v2h-1zM1390 357h1v2h-1zM1391 356h1v1h-1zM1392 354h1v2h-1zM1393 352h1v2h-1zM1394 350h1v2h-1zM1395 349h1v1h-1zM1396 347h1v2h-1zM1397 345h1v2h-1zM1398 344h1v1h-1zM1399 342h1v2h-1zM1400 340h1v2h-1zM1401 338h1v2h-1zM1402 336h1v2h-1zM1403 334h1v2h-1zM1404 332h1v2h-1zM1405 330h1v2h-1zM1406 328h1v2h-1zM1407 326h1v2h-1zM1408 324h1v2h-1zM1409 322h1v2h-1zM1410 320h1v2h-1zM1411 318h1v2h-1zM1412 316h1v2h-1zM1413 314h1v2h-1zM1414 312h1v2h-1zM1415 309h1v3h-1zM1416 307h1v2h-1zM1417 305h1v2h-1zM1418 303h1v2h-1zM1419 301h1v2h-1zM1420 299h1v2h-1zM1421 297h1v2h-1zM1422 295h1v2h-1zM1423 293h1v2h-1zM1424 291h1v2h-1zM1425 289h1v2h-1zM1426 288h1v1h-1zM1427 286h1v2h-1zM1428 284h1v2h-1zM1429 283h1v1h-1zM1430 281h1v2h-1zM1431 280h1v1h-1zM1432 278h1v2h-1zM1433 276h1v2h-1zM1434 275h1v1h-1zM1435 273h1v2h-1zM1436 271h1v2h-1zM1437 270h1v1h-1zM1438 268h1v2h-1zM1439 266h1v2h-1zM1440 264h1v2h-1zM1441 262h1v2h-1zM1442 260h1v2h-1zM1443 258h1v2h-1zM1444 256h1v2h-1zM1445 254h1v2h-1zM1446 252h1v2h-1zM1447 250h1v2h-1zM1448 248h1v2h-1zM1449 246h1v2h-1zM1450 245h1v1h-1zM1451 243h1v2h-1zM1452 241h1v2h-1zM1453 239h1v2h-1zM1454 237h1v2h-1zM1455 235h1v2h-1zM1456 233h1v2h-1zM1457 231h1v2h-1zM1458 229h1v2h-1zM1459 227h1v2h-1zM1460 225h1v2h-1zM1461 223h1v2h-1zM1462 221h1v2h-1zM1463 219h1v2h-1zM1464 217h1v2h-1zM1465 215h1v2h-1zM1466 213h1v2h-1zM1467 212h1v1h-1zM1468 210h1v2h-1zM1469 209h1v1h-1zM1470 207h1v2h-1zM1471 206h1v1h-1zM1472 204h1v2h-1zM1473 203h1v1h-1zM1474 201h1v2h-1zM1475 200h1v1h-1zM1476 198h1v2h-1zM1477 196h1v2h-1zM1478 195h1v1h-1zM1479 193h1v2h-1zM1480 192h1v1h-1zM1481 190h1v2h-1zM1482 188h1v2h-1zM1483 187h1v1h-1zM1484 185h1v2h-1zM1485 183h1v2h-1zM1486 182h1v1h-1zM1487 180h1v2h-1zM1488 179h1v1h-1zM1489 177h1v2h-1zM1490 175h1v2h-1zM1491 174h1v1h-1zM1492 172h1v2h-1zM1493 171h1v1h-1zM1494 169h1v2h-1zM1495 167h1v2h-1zM1496 166h1v1h-1zM1497 164h1v2h-1zM1498 162h1v2h-1zM1499 160h1v2h-1zM1500 158h1v2h-1zM1501 156h1v2h-1zM1502 154h1v2h-1zM1503 152h1v2h-1zM1504 150h1v2h-1zM1505 149h1v1h-1zM1506 148h1v1h-1zM1507 147h1v1h-1zM1508 146h1v1h-1zM1509 145h1v1h-1zM1510 143h1v2h-1zM1511 142h1v1h-1zM1512 141h1v1h-1zM1513 140h1v1h-1zM1514 139h1v1h-1zM1515 138h1v1h-1zM1516 137h1v1h-1zM1517 135h1v2h-1zM1518 134h1v1h-1zM1519 133h1v1h-1zM1520 131h1v2h-1zM1521 130h1v1h-1zM1522 129h1v1h-1zM1523 128h1v1h-1zM1524 127h1v1h-1zM1525 126h1v1h-1zM1526 125h1v1h-1zM1527 124h1v1h-1zM1528 123h1v1h-1zM1531 121h1v1h-1zM1532 120h1v1h-1zM1533 119h1v1h-1zM1534 118h1v1h-1zM1535 117h1v1h-1zM1536 116h1v1h-1zM1537 115h1v1h-1zM1538 114h1v1h-1zM1539 113h1v1h-1zM1540 112h1v1h-1zM1541 111h1v1h-1zM1542 110h1v1h-1zM1543 109h1v1h-1zM1544 108h1v1h-1zM1545 107h1v1h-1zM1546 106h1v1h-1zM1547 105h1v1h-1zM1548 104h1v1h-1zM1549 103h1v1h-1zM1550 102h1v1h-1zM1551 101h1v1h-1zM1552 100h1v1h-1zM1555 98h1v1h-1zM1556 97h1v1h-1zM1557 96h1v1h-1zM1562 93h1v1h-1zM1565 91h1v1h-1zM1570 88h1v1h-1zM1571 87h1v1h-1zM1574 85h1v1h-1zM1575 84h1v1h-1zM1578 82h1v1h-1zM1579 81h1v1h-1zM1580 80h1v1h-1zM1581 79h1v1h-1zM1582 78h1v1h-1zM1583 77h1v1h-1zM1586 75h1v1h-1zM1587 74h1v1h-1zM1588 73h1v1h-1zM1589 72h1v1h-1zM1590 71h1v1h-1zM1593 69h1v1h-1zM1596 67h1v1h-1z"/>
<path fill="#ff00ff" d="M1656 196h2v1h-2zM1652 199h2v1h-2zM1649 201h2v1h-2zM1647 202h2v1h-2zM1645 203h2v1h-2zM1642 205h2v1h-2zM1640 206h2v1h-2zM1638 207h2v1h-2zM1636 208h2v1h-2zM1634 209h2v1h-2zM1632 210h2v1h-2zM1630 211h2v1h-2zM1628 212h2v1h-2zM1626 213h2v1h-2zM1623 214h3v1h-3zM1621 215h2v1h-2zM1619 216h2v1h-2zM1616 217h3v1h-3zM1614 218h2v1h-2zM1612 219h2v1h-2zM1610 220h2v1h-2zM1608 221h2v1h-2zM1606 222h2v1h-2zM1604 223h2v1h-2zM1602 224h2v1h-2zM1600 225h2v1h-2zM1598 226h2v1h-2zM1596 227h2v1h-2zM405 228h33v1h-33zM399 229h6v1h-6zM438 229h4v1h-4zM1593 229h2v1h-2zM392 230h7v1h-7zM442 230h4v1h-4zM1591 230h2v1h-2zM387 231h5v1h-5zM446 231h4v1h-4zM383 232h4v1h-4zM450 232h4v1h-4zM1588 232h2v1h-2zM380 233h3v1h-3zM454 233h3v1h-3zM1585 233h3v1h-3zM377 234h3v1h-3zM457 234h2v1h-2zM1581 234h4v1h-4zM373 235h4v1h-4zM459 235h2v1h-2zM1577 235h4v1h-4zM369 236h4v1h-4zM461 236h2v1h-2zM1573 236h4v1h-4zM364 237h5v1h-5zM463 237h2v1h-2zM1569 237h4v1h-4zM358 238h6v1h-6zM465 238h2v1h-2zM1565 238h4v1h-4zM351 239h7v1h-7zM467 239h4v1h-4zM1562 239h3v1h-3zM343 240h8v1h-8zM471 240h8v1h-8zM1559 240h3v1h-3zM334 241h9v1h-9zM479 241h7v1h-7zM1555 241h4v1h-4zM327 242h7v1h-7zM486 242h5v1h-5zM1552 242h3v1h-3zM322 243h5v1h-5zM491 243h3v1h-3zM1549 243h3v1h-3zM317 244h5v1h-5zM494 244h4v1h-4zM1547 244h2v1h-2zM308 245h9v1h-9zM498 245h3v1h-3zM1545 245h2v1h-2zM278 246h30v1h-30zM501 246h3v1h-3zM272 247h6v1h-6zM504 247h5v1h-5zM265 248h7v1h-7zM509 248h6v1h-6zM1541 248h2v1h-2zM259 249h6v1h-6zM515 249h6v1h-6zM254 250h5v1h-5zM521 250h6v1h-6zM1538 250h2v1h-2zM249 251h5v1h-5zM527 251h5v1h-5zM241 252h8v1h-8zM532 252h3v1h-3zM188 253h53v1h-53zM535 253h2v1h-2zM1534 253h2v1h-2zM182 254h6v1h-6zM537 254h3v1h-3zM176 255h6v1h-6zM540 255h3v1h-3zM170 256h6v1h-6zM543 256h3v1h-3zM1530 256h2v1h-2zM153 257h17v1h-17zM546 257h3v1h-3zM123 258h30v1h-30zM549 258h2v1h-2zM1527 258h2v1h-2zM105 259h18v1h-18zM551 259h3v1h-3zM99 260h6v1h-6zM554 260h3v1h-3zM93 261h6v1h-6zM557 261h2v1h-2zM1523 261h2v1h-2zM87 262h6v1h-6zM559 262h2v1h-2zM81 263h6v1h-6zM561 263h2v1h-2zM1205 263h16v1h-16zM1520 263h2v1h-2zM75 264h6v1h-6zM563 264h2v1h-2zM1199 264h6v1h-6zM1221 264h2v1h-2zM1518 264h2v1h-2zM70 265h5v1h-5zM565 265h2v1h-2zM1193 265h6v1h-6zM1223 265h3v1h-3zM1516 265h2v1h-2zM66 266h4v1h-4zM567 266h2v1h-2zM1188 266h5v1h-5zM1226 266h2v1h-2zM1514 266h2v1h-2zM61 267h5v1h-5zM569 267h2v1h-2zM1186 267h2v1h-2zM1228 267h3v1h-3zM1512 267h2v1h-2zM56 268h5v1h-5zM571 268h2v1h-2zM1183 268h3v1h-3zM1231 268h2v1h-2zM52 269h4v1h-4zM573 269h3v1h-3zM1181 269h2v1h-2zM1233 269h2v1h-2zM1509 269h2v1h-2zM47 270h5v1h-5zM576 270h2v1h-2zM1178 270h3v1h-3zM1235 270h2v1h-2zM1507 270h2v1h-2zM42 271h5v1h-5zM578 271h3v1h-3zM1176 271h2v1h-2zM1237 271h2v1h-2zM1505 271h2v1h-2zM37 272h5v1h-5zM581 272h3v1h-3zM1173 272h3v1h-3zM1239 272h2v1h-2zM1503 272h2v1h-2zM33 273h4v1h-4zM584 273h3v1h-3zM1171 273h2v1h-2zM1241 273h2v1h-2zM1501 273h2v1h-2zM28 274h5v1h-5zM587 274h2v1h-2zM1168 274h3v1h-3zM1243 274h2v1h-2zM24 275h4v1h-4zM589 275h3v1h-3zM1166 275h2v1h-2zM1245 275h2v1h-2zM20 276h4v1h-4zM592 276h7v1h-7zM1163 276h3v1h-3zM1247 276h2v1h-2zM1497 276h2v1h-2zM16 277h4v1h-4zM599 277h6v1h-6zM1161 277h2v1h-2zM1249 277h2v1h-2zM12 278h4v1h-4zM605 278h2v1h-2zM1158 278h3v1h-3zM1251 278h2v1h-2zM8 279h4v1h-4zM607 279h2v1h-2zM1156 279h2v1h-2zM1253 279h2v1h-2zM1493 279h2v1h-2zM4 280h4v1h-4zM1154 280h2v1h-2zM1255 280h2v1h-2zM2 281h2v1h-2zM610 281h2v1h-2zM1151 281h3v1h-3zM1149 282h2v1h-2zM1258 282h2v1h-2zM1489 282h2v1h-2zM1147 283h2v1h-2zM1260 283h2v1h-2zM614 284h2v1h-2zM1262 284h2v1h-2zM1264 285h2v1h-2zM1485 285h2v1h-2zM1266 286h2v1h-2zM1483 286h2v1h-2zM618 287h2v1h-2zM1142 287h2v1h-2zM1268 287h2v1h-2zM1481 287h2v1h-2zM1479 288h2v1h-2zM1271 289h2v1h-2zM1477 289h2v1h-2zM1273 290h2v1h-2zM1475 290h2v1h-2zM623 291h2v1h-2zM1275 291h2v1h-2zM1473 291h2v1h-2zM1277 292h2v1h-2zM1471 292h2v1h-2zM1279 293h2v1h-2zM1469 293h2v1h-2zM1134 294h2v1h-2zM1281 294h3v1h-3zM1466 294h3v1h-3zM628 295h2v1h-2zM1284 295h4v1h-4zM1464 295h2v1h-2zM1288 296h4v1h-4zM1461 296h3v1h-3zM1292 297h2v1h-2zM1458 297h3v1h-3zM1294 298h3v1h-3zM1456 298h2v1h-2zM633 299h2v1h-2zM1128 299h2v1h-2zM1297 299h2v1h-2zM1453 299h3v1h-3zM1126 300h2v1h-2zM1299 300h3v1h-3zM1451 300h2v1h-2zM1302 301h2v1h-2zM1448 301h3v1h-3zM637 302h2v1h-2zM1123 302h2v1h-2zM1304 302h3v1h-3zM1446 302h2v1h-2zM639 303h2v1h-2zM1121 303h2v1h-2zM1307 303h4v1h-4zM1443 303h3v1h-3zM641 304h2v1h-2zM1119 304h2v1h-2zM1311 304h4v1h-4zM1441 304h2v1h-2zM643 305h2v1h-2zM1117 305h2v1h-2zM1315 305h4v1h-4zM1439 305h2v1h-2zM645 306h2v1h-2zM1115 306h2v1h-2zM1319 306h4v1h-4zM1393 306h23v1h-23zM1437 306h2v1h-2zM1113 307h2v1h-2zM1323 307h6v1h-6zM1382 307h11v1h-11zM1416 307h21v1h-21zM648 308h2v1h-2zM1111 308h2v1h-2zM1329 308h5v1h-5zM1372 308h10v1h-10zM650 309h2v1h-2zM1108 309h3v1h-3zM1334 309h8v1h-8zM1363 309h9v1h-9zM652 310h2v1h-2zM1106 310h2v1h-2zM1342 310h21v1h-21zM654 311h2v1h-2zM1104 311h2v1h-2zM656 312h2v1h-2zM1102 312h2v1h-2zM1099 313h3v1h-3zM1096 314h3v1h-3zM660 315h2v1h-2zM1093 315h3v1h-3zM1090 316h3v1h-3zM663 317h2v1h-2zM1087 317h3v1h-3zM665 318h2v1h-2zM1084 318h3v1h-3zM667 319h2v1h-2zM1080 319h4v1h-4zM669 320h2v1h-2zM1077 320h3v1h-3zM671 321h2v1h-2zM1074 321h3v1h-3zM673 322h2v1h-2zM1071 322h3v1h-3zM675 323h2v1h-2zM1068 323h3v1h-3zM677 324h2v1h-2zM1065 324h3v1h-3zM679 325h2v1h-2zM1062 325h3v1h-3zM681 326h2v1h-2zM1060 326h2v1h-2zM683 327h2v1h-2zM1057 327h3v1h-3zM685 328h2v1h-2zM1055 328h2v1h-2zM687 329h2v1h-2zM1052 329h3v1h-3zM1050 330h2v1h-2zM690 331h2v1h-2zM1044 331h6v1h-6zM692 332h2v1h-2zM1035 332h9v1h-9zM1029 333h6v1h-6zM1026 334h3v1h-3zM1022 335h4v1h-4zM1019 336h3v1h-3zM1016 337h3v1h-3zM1012 338h4v1h-4zM1009 339h3v1h-3zM1007 340h2v1h-2zM1005 341h2v1h-2zM1003 342h2v1h-2zM1001 343h2v1h-2zM999 344h2v1h-2zM997 345h2v1h-2zM707 346h2v1h-2zM995 346h2v1h-2zM993 347h2v1h-2zM991 348h2v1h-2zM711 349h2v1h-2zM989 349h2v1h-2zM987 350h2v1h-2zM714 351h2v1h-2zM985 351h2v1h-2zM716 352h2v1h-2zM983 352h2v1h-2zM718 353h2v1h-2zM981 353h2v1h-2zM720 354h2v1h-2zM979 354h2v1h-2zM722 355h2v1h-2zM977 355h2v1h-2zM724 356h2v1h-2zM975 356h2v1h-2zM726 357h2v1h-2zM973 357h2v1h-2zM728 358h2v1h-2zM971 358h2v1h-2zM730 359h2v1h-2zM969 359h2v1h-2zM732 360h2v1h-2zM964 360h5v1h-5zM734 361h2v1h-2zM958 361h6v1h-6zM736 362h2v1h-2zM951 362h7v1h-7zM738 363h2v1h-2zM945 363h6v1h-6zM740 364h2v1h-2zM939 364h6v1h-6zM742 365h2v1h-2zM933 365h6v1h-6zM744 366h2v1h-2zM928 366h5v1h-5zM746 367h3v1h-3zM922 367h6v1h-6zM749 368h3v1h-3zM917 368h5v1h-5zM752 369h3v1h-3zM911 369h6v1h-6zM755 370h3v1h-3zM907 370h4v1h-4zM758 371h3v1h-3zM905 371h2v1h-2zM761 372h3v1h-3zM902 372h3v1h-3zM764 373h3v1h-3zM900 373h2v1h-2zM767 374h3v1h-3zM897 374h3v1h-3zM770 375h4v1h-4zM894 375h3v1h-3zM774 376h3v1h-3zM892 376h2v1h-2zM777 377h3v1h-3zM889 377h3v1h-3zM780 378h3v1h-3zM886 378h3v1h-3zM783 379h3v1h-3zM883 379h3v1h-3zM786 380h15v1h-15zM879 380h4v1h-4zM801 381h34v1h-34zM876 381h3v1h-3zM835 382h8v1h-8zM873 382h3v1h-3zM843 383h30v1h-30zM609 280h1v1h-1zM612 282h1v1h-1zM613 283h1v1h-1zM616 285h1v1h-1zM617 286h1v1h-1zM620 288h1v1h-1zM621 289h1v1h-1zM622 290h1v1h-1zM625 292h1v1h-1zM626 293h1v1h-1zM627 294h1v1h-1zM630 296h1v1h-1zM631 297h1v1h-1zM632 298h1v1h-1zM635 300h1v1h-1zM636 301h1v1h-1zM647 307h1v1h-1zM658 313h1v1h-1zM659 314h1v1h-1zM662 316h1v1h-1zM689 330h1v1h-1zM694 333h1v1h-1zM695 334h1v1h-1zM696 335h1v1h-1zM697 336h1v1h-1zM698 337h1v1h-1zM699 338h1v1h-1zM700 339h1v1h-1zM701 340h1v1h-1zM702 341h1v1h-1zM703 342h1v1h-1zM704 343h1v1h-1zM705 344h1v1h-1zM706 345h1v1h-1zM709 347h1v1h-1zM710 348h1v1h-1zM713 350h1v1h-1zM1125 301h1v1h-1zM1130 298h1v1h-1zM1131 297h1v1h-1zM1132 296h1v1h-1zM1133 295h1v1h-1zM1136 293h1v1h-1zM1137 292h1v1h-1zM1138 291h1v1h-1zM1139 290h1v1h-1zM1140 289h1v1h-1zM1141 288h1v1h-1zM1144 286h1v1h-1zM1145 285h1v1h-1zM1146 284h1v1h-1zM1257 281h1v1h-1zM1270 288h1v1h-1zM1487 284h1v1h-1zM1488 283h1v1h-1zM1491 281h1v1h-1zM1492 280h1v1h-1zM1495 278h1v1h-1zM1496 277h1v1h-1zM1499 275h1v1h-1zM1500 274h1v1h-1zM1511 268h1v1h-1zM1522 262h1v1h-1zM1525 260h1v1h-1zM1526 259h1v1h-1zM1529 257h1v1h-1zM1532 255h1v1h-1zM1533 254h1v1h-1zM1536 252h1v1h-1zM1537 251h1v1h-1zM1540 249h1v1h-1zM1543 247h1v1h-1zM1544 246h1v1h-1zM1590 231h1v1h-1zM1595 228h1v1h-1zM1644 204h1v1h-1zM1651 200h1v1h-1zM1654 198h1v1h-1zM1655 197h1v1h-1zM1658 195h1v1h-1z"/>
<path fill="#ff0000" d="M1652 269h7v1h-7zM1638 270h14v1h-14zM1626 271h12v1h-12zM1615 272h11v1h-11zM1604 273h11v1h-11zM1595 274h9v1h-9zM1587 275h8v1h-8zM1579 276h8v1h-8zM1571 277h8v1h-8zM1564 278h7v1h-7zM1559 279h5v1h-5zM1554 280h5v1h-5zM1548 281h6v1h-6zM1543 282h5v1h-5zM1537 283h6v1h-6zM1529 284h8v1h-8zM1521 285h8v1h-8zM1513 286h8v1h-8zM1505 287h8v1h-8zM1498 288h7v1h-7zM1173 289h50v1h-50zM1493 289h5v1h-5zM1144 290h29v1h-29zM1223 290h7v1h-7zM1485 290h8v1h-8zM1137 291h7v1h-7zM1230 291h7v1h-7zM1475 291h10v1h-10zM1130 292h7v1h-7zM1237 292h7v1h-7zM1465 292h10v1h-10zM1123 293h7v1h-7zM1244 293h9v1h-9zM1456 293h9v1h-9zM1116 294h7v1h-7zM1253 294h12v1h-12zM1449 294h7v1h-7zM1109 295h7v1h-7zM1265 295h11v1h-11zM1442 295h7v1h-7zM1091 296h18v1h-18zM1276 296h18v1h-18zM1435 296h7v1h-7zM1061 297h30v1h-30zM1294 297h7v1h-7zM1427 297h8v1h-8zM1039 298h22v1h-22zM1301 298h6v1h-6zM1417 298h10v1h-10zM1028 299h11v1h-11zM1307 299h17v1h-17zM1405 299h12v1h-12zM1021 300h7v1h-7zM1324 300h81v1h-81zM1014 301h7v1h-7zM1006 302h8v1h-8zM997 303h9v1h-9zM990 304h7v1h-7zM986 305h4v1h-4zM981 306h5v1h-5zM976 307h5v1h-5zM972 308h4v1h-4zM967 309h5v1h-5zM961 310h6v1h-6zM954 311h7v1h-7zM946 312h8v1h-8zM940 313h6v1h-6zM934 314h6v1h-6zM928 315h6v1h-6zM921 316h7v1h-7zM912 317h9v1h-9zM903 318h9v1h-9zM893 319h10v1h-10zM884 320h9v1h-9zM876 321h8v1h-8zM870 322h6v1h-6zM863 323h7v1h-7zM857 324h6v1h-6zM850 325h7v1h-7zM844 326h6v1h-6zM838 327h6v1h-6zM834 328h4v1h-4zM830 329h4v1h-4zM826 330h4v1h-4zM821 331h5v1h-5zM817 332h4v1h-4zM813 333h4v1h-4zM806 334h7v1h-7zM796 335h10v1h-10zM786 336h10v1h-10zM776 337h10v1h-10zM765 338h11v1h-11zM755 339h10v1h-10zM738 340h17v1h-17zM716 341h22v1h-22zM695 342h21v1h-21zM676 343h19v1h-19zM657 344h19v1h-19zM641 345h16v1h-16zM629 346h12v1h-12zM617 347h12v1h-12zM608 348h9v1h-9zM602 349h6v1h-6zM596 350h6v1h-6zM590 351h6v1h-6zM584 352h6v1h-6zM578 353h6v1h-6zM572 354h6v1h-6zM565 355h7v1h-7zM559 356h6v1h-6zM554 357h5v1h-5zM550 358h4v1h-4zM546 359h4v1h-4zM542 360h4v1h-4zM537 361h5v1h-5zM532 362h5v1h-5zM527 363h5v1h-5zM522 364h5v1h-5zM518 365h4v1h-4zM515 366h3v1h-3zM512 367h3v1h-3zM509 368h3v1h-3zM505 369h4v1h-4zM502 370h3v1h-3zM499 371h3v1h-3zM496 372h3v1h-3zM492 373h4v1h-4zM489 374h3v1h-3zM486 375h3v1h-3zM482 376h4v1h-4zM479 377h3v1h-3zM475 378h4v1h-4zM472 379h3v1h-3zM468 380h4v1h-4zM465 381h3v1h-3zM461 382h4v1h-4zM457 383h4v1h-4zM454 384h3v1h-3zM450 385h4v1h-4zM447 386h3v1h-3zM444 387h3v1h-3zM440 388h4v1h-4zM437 389h3v1h-3zM435 390h2v1h-2zM432 391h3v1h-3zM430 392h2v1h-2zM427 393h3v1h-3zM425 394h2v1h-2zM422 395h3v1h-3zM420 396h2v1h-2zM417 397h3v1h-3zM415 398h2v1h-2zM412 399h3v1h-3zM410 400h2v1h-2zM407 401h3v1h-3zM405 402h2v1h-2zM403 403h2v1h-2zM400 404h3v1h-3zM398 405h2v1h-2zM396 406h2v1h-2zM394 407h2v1h-2zM391 408h3v1h-3zM389 409h2v1h-2zM387 410h2v1h-2zM384 411h3v1h-3zM382 412h2v1h-2zM380 413h2v1h-2zM377 414h3v1h-3zM374 415h3v1h-3zM372 416h2v1h-2zM369 417h3v1h-3zM366 418h3v1h-3zM363 419h3v1h-3zM361 420h2v1h-2zM358 421h3v1h-3zM355 422h3v1h-3zM352 423h3v1h-3zM350 424h2v1h-2zM347 425h3v1h-3zM344 426h3v1h-3zM341 427h3v1h-3zM339 428h2v1h-2zM336 429h3v1h-3zM333 430h3v1h-3zM330 431h3v1h-3zM328 432h2v1h-2zM325 433h3v1h-3zM322 434h3v1h-3zM318 435h4v1h-4zM315 436h3v1h-3zM312 437h3v1h-3zM308 438h4v1h-4zM305 439h3v1h-3zM301 440h4v1h-4zM298 441h3v1h-3zM294 442h4v1h-4zM290 443h4v1h-4zM286 444h4v1h-4zM282 445h4v1h-4zM278 446h4v1h-4zM275 447h3v1h-3zM273 448h2v1h-2zM270 449h3v1h-3zM267 450h3v1h-3zM265 451h2v1h-2zM262 452h3v1h-3zM259 453h3v1h-3zM256 454h3v1h-3zM254 455h2v1h-2zM251 456h3v1h-3zM248 457h3v1h-3zM246 458h2v1h-2zM243 459h3v1h-3zM241 460h2v1h-2zM238 461h3v1h-3zM236 462h2v1h-2zM233 463h3v1h-3zM231 464h2v1h-2zM228 465h3v1h-3zM226 466h2v1h-2zM223 467h3v1h-3zM221 468h2v1h-2zM219 469h2v1h-2zM217 470h2v1h-2zM215 471h2v1h-2zM213 472h2v1h-2zM211 473h2v1h-2zM208 474h3v1h-3zM206 475h2v1h-2zM204 476h2v1h-2zM202 477h2v1h-2zM200 478h2v1h-2zM198 479h2v1h-2zM196 480h2v1h-2zM193 481h3v1h-3zM191 482h2v1h-2zM188 483h3v1h-3zM186 484h2v1h-2zM183 485h3v1h-3zM181 486h2v1h-2zM179 487h2v1h-2zM176 488h3v1h-3zM174 489h2v1h-2zM171 490h3v1h-3zM169 491h2v1h-2zM166 492h3v1h-3zM164 493h2v1h-2zM161 494h3v1h-3zM159 495h2v1h-2zM157 496h2v1h-2zM155 497h2v1h-2zM153 498h2v1h-2zM151 499h2v1h-2zM149 500h2v1h-2zM147 501h2v1h-2zM145 502h2v1h-2zM143 503h2v1h-2zM141 504h2v1h-2zM138 505h3v1h-3zM136 506h2v1h-2zM134 507h2v1h-2zM132 508h2v1h-2zM130 509h2v1h-2zM127 510h3v1h-3zM125 511h2v1h-2zM123 512h2v1h-2zM121 513h2v1h-2zM118 514h3v1h-3zM116 515h2v1h-2zM114 516h2v1h-2zM112 517h2v1h-2zM110 518h2v1h-2zM107 519h3v1h-3zM105 520h2v1h-2zM103 521h2v1h-2zM101 522h2v1h-2zM98 523h3v1h-3zM96 524h2v1h-2zM93 525h3v1h-3zM91 526h2v1h-2zM88 527h3v1h-3zM86 528h2v1h-2zM83 529h3v1h-3zM81 530h2v1h-2zM79 531h2v1h-2zM76 532h3v1h-3zM74 533h2v1h-2zM71 534h3v1h-3zM69 535h2v1h-2zM66 536h3v1h-3zM64 537h2v1h-2zM61 538h3v1h-3zM59 539h2v1h-2zM56 540h3v1h-3zM54 541h2v1h-2zM52 542h2v1h-2zM50 543h2v1h-2zM48 544h2v1h-2zM46 545h2v1h-2zM44 546h2v1h-2zM42 547h2v1h-2zM39 548h3v1h-3zM37 549h2v1h-2zM35 550h2v1h-2zM33 551h2v1h-2zM31 552h2v1h-2zM29 553h2v1h-2zM27 554h2v1h-2zM24 555h3v1h-3zM22 556h2v1h-2zM20 557h2v1h-2zM18 558h2v1h-2zM16 559h2v1h-2zM14 560h2v1h-2zM10 561h4v1h-4zM5 562h5v1h-5zM2 563h3v1h-3z"/>
</g>
<rect x="2" y="30" width="1675" height="2" fill="#ff0000"/>
<rect x="2" y="140" width="1675" height="2" fill="#32cd32"/>
<rect x="2" y="213" width="1675" height="2" fill="#4169e1"/>
<rect x="2" y="314" width="1675" height="2" fill="#4169e1"/>
<g id="macd">
<path fill="#c0c0c0" d="M2 668h1v5h-1zM10 666h1v7h-1zM18 665h1v8h-1zM26 666h1v7h-1zM34 665h1v8h-1zM42 665h1v8h-1zM50 665h1v8h-1zM58 666h1v7h-1zM66 665h1v8h-1zM74 662h1v11h-1zM82 661h1v12h-1zM90 662h1v11h-1zM98 661h1v12h-1zM106 661h1v12h-1zM114 662h1v11h-1zM122 663h1v10h-1zM130 664h1v9h-1zM138 664h1v9h-1zM146 664h1v9h-1zM154 664h1v9h-1zM162 666h1v7h-1zM170 665h1v8h-1zM178 664h1v9h-1zM186 662h1v11h-1zM194 660h1v13h-1zM202 663h1v10h-1zM210 664h1v9h-1zM218 664h1v9h-1zM226 665h1v8h-1zM234 666h1v7h-1zM242 666h1v7h-1zM250 665h1v8h-1zM258 665h1v8h-1zM266 662h1v11h-1zM274 661h1v12h-1zM282 665h1v8h-1zM290 668h1v5h-1zM298 672h1v1h-1zM306 672h1v2h-1zM314 672h1v6h-1zM322 672h1v6h-1zM330 672h1v6h-1zM338 672h1v6h-1zM346 672h1v6h-1zM354 672h1v6h-1zM362 672h1v6h-1zM370 672h1v5h-1zM378 672h1v2h-1zM386 672h1v1h-1zM394 670h1v3h-1zM402 669h1v4h-1zM410 668h1v5h-1zM418 668h1v5h-1zM426 669h1v4h-1zM434 672h1v2h-1zM442 672h1v10h-1zM450 672h1v16h-1zM458 672h1v22h-1zM466 672h1v30h-1zM474 672h1v30h-1zM482 672h1v29h-1zM490 672h1v28h-1zM498 672h1v27h-1zM506 672h1v25h-1zM514 672h1v21h-1zM522 672h1v18h-1zM530 672h1v15h-1zM538 672h1v18h-1zM546 672h1v21h-1zM554 672h1v25h-1zM562 672h1v29h-1zM570 672h1v31h-1zM578 672h1v31h-1zM586 672h1v29h-1zM594 672h1v25h-1zM602 672h1v21h-1zM610 672h1v24h-1zM618 672h1v32h-1zM626 672h1v36h-1zM634 672h1v40h-1zM642 672h1v42h-1zM650 672h1v41h-1zM658 672h1v37h-1zM666 672h1v35h-1zM674 672h1v33h-1zM682 672h1v29h-1zM690 672h1v27h-1zM698 672h1v30h-1zM706 672h1v36h-1zM714 672h1v36h-1zM722 672h1v32h-1zM730 672h1v29h-1zM738 672h1v26h-1zM746 672h1v24h-1zM754 672h1v19h-1zM762 672h1v14h-1zM770 672h1v9h-1zM778 672h1v5h-1zM786 671h1v2h-1zM794 664h1v9h-1zM802 653h1v20h-1zM810 646h1v27h-1zM818 640h1v33h-1zM826 634h1v39h-1zM834 631h1v42h-1zM842 628h1v45h-1zM850 630h1v43h-1zM858 629h1v44h-1zM866 629h1v44h-1zM874 630h1v43h-1zM882 630h1v43h-1zM890 633h1v40h-1zM898 635h1v38h-1zM906 638h1v35h-1zM914 641h1v32h-1zM922 644h1v29h-1zM930 647h1v26h-1zM938 648h1v25h-1zM946 649h1v24h-1zM954 649h1v24h-1zM962 648h1v25h-1zM970 645h1v28h-1zM978 644h1v29h-1zM986 643h1v30h-1zM994 642h1v31h-1zM1002 647h1v26h-1zM1010 651h1v22h-1zM1018 655h1v18h-1zM1026 659h1v14h-1zM1034 661h1v12h-1zM1042 666h1v7h-1zM1050 672h1v1h-1zM1058 672h1v6h-1zM1066 672h1v10h-1zM1074 672h1v12h-1zM1082 672h1v15h-1zM1090 672h1v17h-1zM1098 672h1v19h-1zM1106 672h1v18h-1zM1114 672h1v10h-1zM1122 672h1v2h-1zM1130 668h1v5h-1zM1138 661h1v12h-1zM1146 659h1v14h-1zM1154 664h1v9h-1zM1162 667h1v6h-1zM1170 671h1v2h-1zM1178 672h1v1h-1zM1186 672h1v2h-1zM1194 672h1v5h-1zM1202 672h1v8h-1zM1210 672h1v12h-1zM1218 672h1v19h-1zM1226 672h1v27h-1zM1234 672h1v33h-1zM1242 672h1v37h-1zM1250 672h1v44h-1zM1258 672h1v46h-1zM1266 672h1v44h-1zM1274 672h1v41h-1zM1282 672h1v37h-1zM1290 672h1v33h-1zM1298 672h1v31h-1zM1306 672h1v24h-1zM1314 672h1v17h-1zM1322 672h1v12h-1zM1330 672h1v8h-1zM1338 672h1v4h-1zM1346 671h1v2h-1zM1354 665h1v8h-1zM1362 659h1v14h-1zM1370 655h1v18h-1zM1378 651h1v22h-1zM1386 648h1v25h-1zM1394 643h1v30h-1zM1402 639h1v34h-1zM1410 637h1v36h-1zM1418 636h1v37h-1zM1426 636h1v37h-1zM1434 635h1v38h-1zM1442 631h1v42h-1zM1450 627h1v46h-1zM1458 624h1v49h-1zM1466 622h1v51h-1zM1474 621h1v52h-1zM1482 619h1v54h-1zM1490 619h1v54h-1zM1498 620h1v53h-1zM1506 621h1v52h-1zM1514 622h1v51h-1zM1522 624h1v49h-1zM1530 626h1v47h-1zM1538 628h1v45h-1zM1546 630h1v43h-1zM1554 633h1v40h-1zM1562 635h1v38h-1zM1570 637h1v36h-1zM1578 638h1v35h-1zM1586 639h1v34h-1zM1594 641h1v32h-1zM1602 644h1v29h-1zM1610 649h1v24h-1zM1618 652h1v21h-1zM1626 656h1v17h-1zM1634 658h1v15h-1zM1642 659h1v14h-1zM1650 661h1v12h-1zM1658 662h1v11h-1z"/>
<path fill="#ff0000" d="M1526 620h3v1h-3zM1532 620h3v1h-3zM1514 621h3v1h-3zM1520 621h3v1h-3zM1538 621h3v1h-3zM1503 622h2v1h-2zM1508 622h3v1h-3zM1545 622h2v1h-2zM1497 623h2v1h-2zM1551 623h2v1h-2zM1557 624h2v1h-2zM1490 625h3v1h-3zM1562 625h3v1h-3zM1484 627h2v1h-2zM1569 627h2v1h-2zM1479 628h2v1h-2zM1574 628h2v1h-2zM890 629h3v1h-3zM896 629h3v1h-3zM884 630h3v1h-3zM902 630h3v1h-3zM1472 630h3v1h-3zM1580 630h3v1h-3zM879 631h2v1h-2zM909 632h2v1h-2zM914 632h2v1h-2zM1466 632h2v1h-2zM1587 632h2v1h-2zM872 633h3v1h-3zM920 633h3v1h-3zM1461 633h2v1h-2zM1592 633h3v1h-3zM926 634h3v1h-3zM866 635h3v1h-3zM932 635h3v1h-3zM1454 635h3v1h-3zM1599 635h2v1h-2zM1604 636h3v1h-3zM861 637h2v1h-2zM938 637h2v1h-2zM1448 637h2v1h-2zM1611 638h2v1h-2zM1443 639h2v1h-2zM945 640h2v1h-2zM1617 640h2v1h-2zM950 641h3v1h-3zM1436 641h3v1h-3zM956 642h3v1h-3zM1622 642h3v1h-3zM962 643h3v1h-3zM1430 643h2v1h-2zM849 644h2v1h-2zM968 644h3v1h-3zM1425 644h2v1h-2zM1628 644h2v1h-2zM975 645h2v1h-2zM980 645h3v1h-3zM986 645h3v1h-3zM992 645h3v1h-3zM998 645h3v1h-3zM1004 646h3v1h-3zM1010 646h3v1h-3zM1016 646h3v1h-3zM1022 646h3v1h-3zM1634 646h2v1h-2zM1028 647h2v1h-2zM1418 647h3v1h-3zM842 649h2v1h-2zM1034 649h3v1h-3zM1641 649h2v1h-2zM1412 650h2v1h-2zM1646 650h3v1h-3zM1041 651h2v1h-2zM1653 651h2v1h-2zM836 653h2v1h-2zM1046 653h3v1h-3zM1406 653h2v1h-2zM1053 656h2v1h-2zM1401 656h2v1h-2zM1059 659h2v1h-2zM1395 659h2v1h-2zM128 661h3v1h-3zM134 661h3v1h-3zM140 661h3v1h-3zM104 662h3v1h-3zM110 662h3v1h-3zM116 662h3v1h-3zM122 662h3v1h-3zM146 662h3v1h-3zM152 662h3v1h-3zM158 662h3v1h-3zM1064 662h2v1h-2zM86 663h3v1h-3zM92 663h3v1h-3zM98 663h3v1h-3zM164 663h3v1h-3zM170 663h3v1h-3zM176 663h3v1h-3zM182 663h3v1h-3zM188 663h3v1h-3zM194 663h3v1h-3zM200 663h3v1h-3zM206 663h3v1h-3zM212 663h3v1h-3zM218 663h3v1h-3zM224 663h3v1h-3zM230 663h3v1h-3zM236 663h3v1h-3zM242 663h3v1h-3zM248 663h3v1h-3zM254 663h3v1h-3zM260 663h3v1h-3zM272 663h3v1h-3zM278 663h3v1h-3zM284 663h3v1h-3zM74 664h3v1h-3zM80 664h3v1h-3zM267 664h2v1h-2zM290 664h3v1h-3zM1388 664h2v1h-2zM56 665h3v1h-3zM62 665h3v1h-3zM68 665h3v1h-3zM296 665h3v1h-3zM1070 665h2v1h-2zM44 666h3v1h-3zM50 666h3v1h-3zM302 666h3v1h-3zM308 666h3v1h-3zM38 667h3v1h-3zM314 667h3v1h-3zM1184 667h3v1h-3zM1190 667h3v1h-3zM32 668h3v1h-3zM1076 668h2v1h-2zM1178 668h3v1h-3zM1197 668h2v1h-2zM1382 668h2v1h-2zM26 669h3v1h-3zM320 669h3v1h-3zM1172 669h3v1h-3zM1202 669h3v1h-3zM20 670h3v1h-3zM326 670h3v1h-3zM1208 670h2v1h-2zM332 671h3v1h-3zM428 671h3v1h-3zM434 671h3v1h-3zM1082 671h2v1h-2zM1166 671h3v1h-3zM14 672h3v1h-3zM338 672h3v1h-3zM423 672h2v1h-2zM440 672h3v1h-3zM446 672h3v1h-3zM8 673h3v1h-3zM416 673h3v1h-3zM452 673h3v1h-3zM1161 673h2v1h-2zM1214 673h2v1h-2zM2 674h3v1h-3zM345 674h2v1h-2zM410 674h3v1h-3zM1088 674h2v1h-2zM1371 674h2v1h-2zM350 675h3v1h-3zM398 675h3v1h-3zM404 675h2v1h-2zM459 675h2v1h-2zM1155 675h2v1h-2zM356 676h3v1h-3zM392 676h3v1h-3zM362 677h3v1h-3zM368 677h3v1h-3zM386 677h3v1h-3zM806 677h2v1h-2zM1094 677h2v1h-2zM1221 677h2v1h-2zM374 678h3v1h-3zM380 678h3v1h-3zM465 678h2v1h-2zM1148 678h2v1h-2zM1100 680h2v1h-2zM1142 680h3v1h-3zM1227 680h2v1h-2zM470 681h2v1h-2zM800 681h2v1h-2zM1106 682h3v1h-3zM1136 682h2v1h-2zM1358 682h2v1h-2zM1130 683h3v1h-3zM1232 683h2v1h-2zM476 684h2v1h-2zM1113 684h2v1h-2zM1118 684h3v1h-3zM1124 684h3v1h-3zM794 685h2v1h-2zM1353 685h2v1h-2zM482 686h2v1h-2zM1238 686h2v1h-2zM788 688h2v1h-2zM489 689h2v1h-2zM1347 689h2v1h-2zM494 691h2v1h-2zM782 691h2v1h-2zM500 694h3v1h-3zM543 694h2v1h-2zM548 694h3v1h-3zM554 694h3v1h-3zM560 694h3v1h-3zM776 694h2v1h-2zM1251 694h2v1h-2zM506 695h2v1h-2zM536 695h3v1h-3zM567 695h2v1h-2zM572 695h3v1h-3zM579 696h2v1h-2zM584 696h3v1h-3zM513 697h2v1h-2zM530 697h2v1h-2zM591 697h2v1h-2zM596 697h3v1h-3zM602 697h3v1h-3zM770 697h2v1h-2zM1256 697h2v1h-2zM1334 697h2v1h-2zM518 698h3v1h-3zM524 698h3v1h-3zM608 698h3v1h-3zM614 698h2v1h-2zM764 698h3v1h-3zM759 699h2v1h-2zM620 700h3v1h-3zM1262 700h2v1h-2zM1329 700h2v1h-2zM626 701h3v1h-3zM752 701h2v1h-2zM632 702h3v1h-3zM746 702h3v1h-3zM638 703h3v1h-3zM644 703h2v1h-2zM740 703h3v1h-3zM1268 703h3v1h-3zM1322 703h3v1h-3zM650 704h3v1h-3zM729 704h2v1h-2zM734 704h3v1h-3zM656 705h3v1h-3zM662 705h2v1h-2zM722 705h3v1h-3zM1317 705h2v1h-2zM668 706h3v1h-3zM710 706h3v1h-3zM716 706h3v1h-3zM1275 706h2v1h-2zM674 707h3v1h-3zM692 707h3v1h-3zM698 707h3v1h-3zM704 707h2v1h-2zM680 708h3v1h-3zM686 708h2v1h-2zM1280 708h3v1h-3zM1310 708h2v1h-2zM1286 709h2v1h-2zM1292 710h3v1h-3zM1304 710h2v1h-2zM1298 711h3v1h-3zM266 663h1v1h-1zM344 673h1v1h-1zM406 674h1v1h-1zM422 673h1v1h-1zM458 674h1v1h-1zM464 677h1v1h-1zM472 682h1v1h-1zM478 685h1v1h-1zM484 687h1v1h-1zM488 688h1v1h-1zM496 692h1v1h-1zM508 696h1v1h-1zM512 696h1v1h-1zM532 696h1v1h-1zM542 695h1v1h-1zM566 694h1v1h-1zM578 695h1v1h-1zM590 696h1v1h-1zM616 699h1v1h-1zM646 704h1v1h-1zM664 706h1v1h-1zM688 707h1v1h-1zM706 706h1v1h-1zM728 705h1v1h-1zM754 700h1v1h-1zM758 700h1v1h-1zM772 696h1v1h-1zM778 693h1v1h-1zM784 690h1v1h-1zM790 687h1v1h-1zM796 684h1v1h-1zM802 680h1v1h-1zM808 676h1v1h-1zM812 673h1v1h-1zM813 672h1v1h-1zM814 671h1v1h-1zM818 668h1v1h-1zM819 667h1v1h-1zM820 666h1v1h-1zM824 663h1v1h-1zM825 662h1v1h-1zM826 661h1v1h-1zM830 658h1v1h-1zM831 657h1v1h-1zM832 656h1v1h-1zM838 652h1v1h-1zM844 648h1v1h-1zM848 645h1v1h-1zM854 641h1v1h-1zM855 640h1v1h-1zM856 639h1v1h-1zM860 638h1v1h-1zM878 632h1v1h-1zM908 631h1v1h-1zM916 633h1v1h-1zM940 638h1v1h-1zM944 639h1v1h-1zM974 644h1v1h-1zM1030 648h1v1h-1zM1040 650h1v1h-1zM1052 655h1v1h-1zM1058 658h1v1h-1zM1066 663h1v1h-1zM1072 666h1v1h-1zM1078 669h1v1h-1zM1084 672h1v1h-1zM1090 675h1v1h-1zM1096 678h1v1h-1zM1102 681h1v1h-1zM1112 683h1v1h-1zM1138 681h1v1h-1zM1150 677h1v1h-1zM1154 676h1v1h-1zM1160 674h1v1h-1zM1196 667h1v1h-1zM1210 671h1v1h-1zM1216 674h1v1h-1zM1220 676h1v1h-1zM1226 679h1v1h-1zM1234 684h1v1h-1zM1240 687h1v1h-1zM1244 689h1v1h-1zM1245 690h1v1h-1zM1246 691h1v1h-1zM1250 693h1v1h-1zM1258 698h1v1h-1zM1264 701h1v1h-1zM1274 705h1v1h-1zM1288 710h1v1h-1zM1306 709h1v1h-1zM1312 707h1v1h-1zM1316 706h1v1h-1zM1328 701h1v1h-1zM1336 696h1v1h-1zM1340 694h1v1h-1zM1341 693h1v1h-1zM1342 692h1v1h-1zM1346 690h1v1h-1zM1352 686h1v1h-1zM1360 681h1v1h-1zM1364 679h1v1h-1zM1365 678h1v1h-1zM1366 677h1v1h-1zM1370 675h1v1h-1zM1376 672h1v1h-1zM1377 671h1v1h-1zM1378 670h1v1h-1zM1384 667h1v1h-1zM1390 663h1v1h-1zM1394 660h1v1h-1zM1400 657h1v1h-1zM1408 652h1v1h-1zM1414 649h1v1h-1zM1424 645h1v1h-1zM1432 642h1v1h-1zM1442 640h1v1h-1zM1450 636h1v1h-1zM1460 634h1v1h-1zM1468 631h1v1h-1zM1478 629h1v1h-1zM1486 626h1v1h-1zM1496 624h1v1h-1zM1502 623h1v1h-1zM1544 621h1v1h-1zM1550 622h1v1h-1zM1556 623h1v1h-1zM1568 626h1v1h-1zM1576 629h1v1h-1zM1586 631h1v1h-1zM1598 634h1v1h-1zM1610 637h1v1h-1zM1616 639h1v1h-1zM1630 645h1v1h-1zM1636 647h1v1h-1zM1640 648h1v1h-1zM1652 650h1v1h-1z"/>
</g>
<g id="rsi">
<path fill="#c0c0c0" d="M3 754h3v1h-3zM9 754h3v1h-3zM15 754h3v1h-3zM21 754h3v1h-3zM27 754h3v1h-3zM33 754h3v1h-3zM39 754h3v1h-3zM45 754h3v1h-3zM51 754h3v1h-3zM57 754h3v1h-3zM63 754h3v1h-3zM69 754h3v1h-3zM75 754h3v1h-3zM81 754h3v1h-3zM87 754h3v1h-3zM93 754h3v1h-3zM99 754h3v1h-3zM105 754h3v1h-3zM111 754h3v1h-3zM117 754h3v1h-3zM123 754h3v1h-3zM129 754h3v1h-3zM135 754h3v1h-3zM141 754h3v1h-3zM147 754h3v1h-3zM153 754h3v1h-3zM159 754h3v1h-3zM165 754h3v1h-3zM171 754h3v1h-3zM177 754h3v1h-3zM183 754h3v1h-3zM189 754h3v1h-3zM195 754h3v1h-3zM201 754h3v1h-3zM207 754h3v1h-3zM213 754h3v1h-3zM219 754h3v1h-3zM225 754h3v1h-3zM231 754h3v1h-3zM237 754h3v1h-3zM243 754h3v1h-3zM249 754h3v1h-3zM255 754h3v1h-3zM261 754h3v1h-3zM267 754h3v1h-3zM273 754h3v1h-3zM279 754h3v1h-3zM285 754h3v1h-3zM291 754h3v1h-3zM297 754h3v1h-3zM303 754h3v1h-3zM309 754h3v1h-3zM315 754h3v1h-3zM321 754h3v1h-3zM327 754h3v1h-3zM333 754h3v1h-3zM339 754h3v1h-3zM345 754h3v1h-3zM351 754h3v1h-3zM357 754h3v1h-3zM363 754h3v1h-3zM369 754h3v1h-3zM375 754h3v1h-3zM381 754h3v1h-3zM387 754h3v1h-3zM393 754h3v1h-3zM399 754h3v1h-3zM405 754h3v1h-3zM411 754h3v1h-3zM417 754h3v1h-3zM423 754h3v1h-3zM429 754h3v1h-3zM435 754h3v1h-3zM441 754h3v1h-3zM447 754h3v1h-3zM453 754h3v1h-3zM459 754h3v1h-3zM465 754h3v1h-3zM471 754h3v1h-3zM477 754h3v1h-3zM483 754h3v1h-3zM489 754h3v1h-3zM495 754h3v1h-3zM501 754h3v1h-3zM507 754h3v1h-3zM513 754h3v1h-3zM519 754h3v1h-3zM525 754h3v1h-3zM531 754h3v1h-3zM537 754h3v1h-3zM543 754h3v1h-3zM549 754h3v1h-3zM555 754h3v1h-3zM561 754h3v1h-3zM567 754h3v1h-3zM573 754h3v1h-3zM579 754h3v1h-3zM585 754h3v1h-3zM591 754h3v1h-3zM597 754h3v1h-3zM603 754h3v1h-3zM609 754h3v1h-3zM615 754h3v1h-3zM621 754h3v1h-3zM627 754h3v1h-3zM633 754h3v1h-3zM639 754h3v1h-3zM645 754h3v1h-3zM651 754h3v1h-3zM657 754h3v1h-3zM663 754h3v1h-3zM669 754h3v1h-3zM675 754h3v1h-3zM681 754h3v1h-3zM687 754h3v1h-3zM693 754h3v1h-3zM699 754h3v1h-3zM705 754h3v1h-3zM711 754h3v1h-3zM717 754h3v1h-3zM723 754h3v1h-3zM729 754h3v1h-3zM735 754h3v1h-3zM741 754h3v1h-3zM747 754h3v1h-3zM753 754h3v1h-3zM759 754h3v1h-3zM765 754h3v1h-3zM771 754h3v1h-3zM777 754h3v1h-3zM783 754h3v1h-3zM789 754h3v1h-3zM795 754h3v1h-3zM801 754h3v1h-3zM807 754h3v1h-3zM813 754h3v1h-3zM819 754h3v1h-3zM825 754h3v1h-3zM831 754h3v1h-3zM837 754h3v1h-3zM843 754h3v1h-3zM849 754h3v1h-3zM855 754h3v1h-3zM861 754h3v1h-3zM867 754h3v1h-3zM873 754h3v1h-3zM879 754h3v1h-3zM885 754h3v1h-3zM891 754h3v1h-3zM897 754h3v1h-3zM903 754h3v1h-3zM909 754h3v1h-3zM915 754h3v1h-3zM921 754h3v1h-3zM927 754h3v1h-3zM933 754h3v1h-3zM939 754h3v1h-3zM945 754h3v1h-3zM951 754h3v1h-3zM957 754h3v1h-3zM963 754h3v1h-3zM969 754h3v1h-3zM975 754h3v1h-3zM981 754h3v1h-3zM987 754h3v1h-3zM993 754h3v1h-3zM999 754h3v1h-3zM1005 754h3v1h-3zM1011 754h3v1h-3zM1017 754h3v1h-3zM1023 754h3v1h-3zM1029 754h3v1h-3zM1035 754h3v1h-3zM1041 754h3v1h-3zM1047 754h3v1h-3zM1053 754h3v1h-3zM1059 754h3v1h-3zM1065 754h3v1h-3zM1071 754h3v1h-3zM1077 754h3v1h-3zM1083 754h3v1h-3zM1089 754h3v1h-3zM1095 754h3v1h-3zM1101 754h3v1h-3zM1107 754h3v1h-3zM1113 754h3v1h-3zM1119 754h3v1h-3zM1125 754h3v1h-3zM1131 754h3v1h-3zM1137 754h3v1h-3zM1143 754h3v1h-3zM1149 754h3v1h-3zM1155 754h3v1h-3zM1161 754h3v1h-3zM1167 754h3v1h-3zM1173 754h3v1h-3zM1179 754h3v1h-3zM1185 754h3v1h-3zM1191 754h3v1h-3zM1197 754h3v1h-3zM1203 754h3v1h-3zM1209 754h3v1h-3zM1215 754h3v1h-3zM1221 754h3v1h-3zM1227 754h3v1h-3zM1233 754h3v1h-3zM1239 754h3v1h-3zM1245 754h3v1h-3zM1251 754h3v1h-3zM1257 754h3v1h-3zM1263 754h3v1h-3zM1269 754h3v1h-3zM1275 754h3v1h-3zM1281 754h3v1h-3zM1287 754h3v1h-3zM1293 754h3v1h-3zM1299 754h3v1h-3zM1305 754h3v1h-3zM1311 754h3v1h-3zM1317 754h3v1h-3zM1323 754h3v1h-3zM1329 754h3v1h-3zM1335 754h3v1h-3zM1341 754h3v1h-3zM1347 754h3v1h-3zM1353 754h3v1h-3zM1359 754h3v1h-3zM1365 754h3v1h-3zM1371 754h3v1h-3zM1377 754h3v1h-3zM1383 754h3v1h-3zM1389 754h3v1h-3zM1395 754h3v1h-3zM1401 754h3v1h-3zM1407 754h3v1h-3zM1413 754h3v1h-3zM1419 754h3v1h-3zM1425 754h3v1h-3zM1431 754h3v1h-3zM1437 754h3v1h-3zM1443 754h3v1h-3zM1449 754h3v1h-3zM1455 754h3v1h-3zM1461 754h3v1h-3zM1467 754h3v1h-3zM1473 754h3v1h-3zM1479 754h3v1h-3zM1485 754h3v1h-3zM1491 754h3v1h-3zM1497 754h3v1h-3zM1503 754h3v1h-3zM1509 754h3v1h-3zM1515 754h3v1h-3zM1521 754h3v1h-3zM1527 754h3v1h-3zM1533 754h3v1h-3zM1539 754h3v1h-3zM1545 754h3v1h-3zM1551 754h3v1h-3zM1557 754h3v1h-3zM1563 754h3v1h-3zM1569 754h3v1h-3zM1575 754h3v1h-3zM1581 754h3v1h-3zM1587 754h3v1h-3zM1593 754h3v1h-3zM1599 754h3v1h-3zM1605 754h3v1h-3zM1611 754h3v1h-3zM1617 754h3v1h-3zM1623 754h3v1h-3zM1629 754h3v1h-3zM1635 754h3v1h-3zM1641 754h3v1h-3zM1647 754h3v1h-3zM1653 754h3v1h-3zM1659 754h3v1h-3zM1665 754h3v1h-3zM1671 754h3v1h-3zM3 790h3v1h-3zM9 790h3v1h-3zM15 790h3v1h-3zM21 790h3v1h-3zM27 790h3v1h-3zM33 790h3v1h-3zM39 790h3v1h-3zM45 790h3v1h-3zM51 790h3v1h-3zM57 790h3v1h-3zM63 790h3v1h-3zM69 790h3v1h-3zM75 790h3v1h-3zM81 790h3v1h-3zM87 790h3v1h-3zM93 790h3v1h-3zM99 790h3v1h-3zM105 790h3v1h-3zM111 790h3v1h-3zM117 790h3v1h-3zM123 790h3v1h-3zM129 790h3v1h-3zM135 790h3v1h-3zM141 790h3v1h-3zM147 790h3v1h-3zM153 790h3v1h-3zM159 790h3v1h-3zM165 790h3v1h-3zM171 790h3v1h-3zM177 790h3v1h-3zM183 790h3v1h-3zM189 790h3v1h-3zM195 790h3v1h-3zM201 790h3v1h-3zM207 790h3v1h-3zM213 790h3v1h-3zM219 790h3v1h-3zM225 790h3v1h-3zM231 790h3v1h-3zM237 790h3v1h-3zM243 790h3v1h-3zM249 790h3v1h-3zM255 790h3v1h-3zM261 790h3v1h-3zM267 790h3v1h-3zM273 790h3v1h-3zM279 790h3v1h-3zM285 790h3v1h-3zM291 790h3v1h-3zM297 790h3v1h-3zM303 790h3v1h-3zM309 790h3v1h-3zM315 790h3v1h-3zM321 790h3v1h-3zM327 790h3v1h-3zM333 790h3v1h-3zM339 790h3v1h-3zM345 790h3v1h-3zM351 790h3v1h-3zM357 790h3v1h-3zM363 790h3v1h-3zM369 790h3v1h-3zM375 790h3v1h-3zM381 790h3v1h-3zM387 790h3v1h-3zM393 790h3v1h-3zM399 790h3v1h-3zM405 790h3v1h-3zM411 790h3v1h-3zM417 790h3v1h-3zM423 790h3v1h-3zM429 790h3v1h-3zM435 790h3v1h-3zM441 790h3v1h-3zM447 790h3v1h-3zM453 790h3v1h-3zM459 790h3v1h-3zM465 790h3v1h-3zM471 790h3v1h-3zM477 790h3v1h-3zM483 790h3v1h-3zM489 790h3v1h-3zM495 790h3v1h-3zM501 790h3v1h-3zM507 790h3v1h-3zM513 790h3v1h-3zM519 790h3v1h-3zM525 790h3v1h-3zM531 790h3v1h-3zM537 790h3v1h-3zM543 790h3v1h-3zM549 790h3v1h-3zM555 790h3v1h-3zM561 790h3v1h-3zM567 790h3v1h-3zM573 790h3v1h-3zM579 790h3v1h-3zM585 790h3v1h-3zM591 790h3v1h-3zM597 790h3v1h-3zM603 790h3v1h-3zM609 790h3v1h-3zM615 790h3v1h-3zM621 790h3v1h-3zM627 790h3v1h-3zM633 790h3v1h-3zM639 790h3v1h-3zM645 790h3v1h-3zM651 790h3v1h-3zM657 790h3v1h-3zM663 790h3v1h-3zM669 790h3v1h-3zM675 790h3v1h-3zM681 790h3v1h-3zM687 790h3v1h-3zM693 790h3v1h-3zM699 790h3v1h-3zM705 790h3v1h-3zM711 790h3v1h-3zM717 790h3v1h-3zM723 790h3v1h-3zM729 790h3v1h-3zM735 790h3v1h-3zM741 790h3v1h-3zM747 790h3v1h-3zM753 790h3v1h-3zM759 790h3v1h-3zM765 790h3v1h-3zM771 790h3v1h-3zM777 790h3v1h-3zM783 790h3v1h-3zM789 790h3v1h-3zM795 790h3v1h-3zM801 790h3v1h-3zM807 790h3v1h-3zM813 790h3v1h-3zM819 790h3v1h-3zM825 790h3v1h-3zM831 790h3v1h-3zM837 790h3v1h-3zM843 790h3v1h-3zM849 790h3v1h-3zM855 790h3v1h-3zM861 790h3v1h-3zM867 790h3v1h-3zM873 790h3v1h-3zM879 790h3v1h-3zM885 790h3v1h-3zM891 790h3v1h-3zM897 790h3v1h-3zM903 790h3v1h-3zM909 790h3v1h-3zM915 790h3v1h-3zM921 790h3v1h-3zM927 790h3v1h-3zM933 790h3v1h-3zM939 790h3v1h-3zM945 790h3v1h-3zM951 790h3v1h-3zM957 790h3v1h-3zM963 790h3v1h-3zM969 790h3v1h-3zM975 790h3v1h-3zM981 790h3v1h-3zM987 790h3v1h-3zM993 790h3v1h-3zM999 790h3v1h-3zM1005 790h3v1h-3zM1011 790h3v1h-3zM1017 790h3v1h-3zM1023 790h3v1h-3zM1029 790h3v1h-3zM1035 790h3v1h-3zM1041 790h3v1h-3zM1047 790h3v1h-3zM1053 790h3v1h-3zM1059 790h3v1h-3zM1065 790h3v1h-3zM1071 790h3v1h-3zM1077 790h3v1h-3zM1083 790h3v1h-3zM1089 790h3v1h-3zM1095 790h3v1h-3zM1101 790h3v1h-3zM1107 790h3v1h-3zM1113 790h3v1h-3zM1119 790h3v1h-3zM1125 790h3v1h-3zM1131 790h3v1h-3zM1137 790h3v1h-3zM1143 790h3v1h-3zM1149 790h3v1h-3zM1155 790h3v1h-3zM1161 790h3v1h-3zM1167 790h3v1h-3zM1173 790h3v1h-3zM1179 790h3v1h-3zM1185 790h3v1h-3zM1191 790h3v1h-3zM1197 790h3v1h-3zM1203 790h3v1h-3zM1209 790h3v1h-3zM1215 790h3v1h-3zM1221 790h3v1h-3zM1227 790h3v1h-3zM1233 790h3v1h-3zM1239 790h3v1h-3zM1245 790h3v1h-3zM1251 790h3v1h-3zM1257 790h3v1h-3zM1263 790h3v1h-3zM1269 790h3v1h-3zM1275 790h3v1h-3zM1281 790h3v1h-3zM1287 790h3v1h-3zM1293 790h3v1h-3zM1299 790h3v1h-3zM1305 790h3v1h-3zM1311 790h3v1h-3zM1317 790h3v1h-3zM1323 790h3v1h-3zM1329 790h3v1h-3zM1335 790h3v1h-3zM1341 790h3v1h-3zM1347 790h3v1h-3zM1353 790h3v1h-3zM1359 790h3v1h-3zM1365 790h3v1h-3zM1371 790h3v1h-3zM1377 790h3v1h-3zM1383 790h3v1h-3zM1389 790h3v1h-3zM1395 790h3v1h-3zM1401 790h3v1h-3zM1407 790h3v1h-3zM1413 790h3v1h-3zM1419 790h3v1h-3zM1425 790h3v1h-3zM1431 790h3v1h-3zM1437 790h3v1h-3zM1443 790h3v1h-3zM1449 790h3v1h-3zM1455 790h3v1h-3zM1461 790h3v1h-3zM1467 790h3v1h-3zM1473 790h3v1h-3zM1479 790h3v1h-3zM1485 790h3v1h-3zM1491 790h3v1h-3zM1497 790h3v1h-3zM1503 790h3v1h-3zM1509 790h3v1h-3zM1515 790h3v1h-3zM1521 790h3v1h-3zM1527 790h3v1h-3zM1533 790h3v1h-3zM1539 790h3v1h-3zM1545 790h3v1h-3zM1551 790h3v1h-3zM1557 790h3v1h-3zM1563 790h3v1h-3zM1569 790h3v1h-3zM1575 790h3v1h-3zM1581 790h3v1h-3zM1587 790h3v1h-3zM1593 790h3v1h-3zM1599 790h3v1h-3zM1605 790h3v1h-3zM1611 790h3v1h-3zM1617 790h3v1h-3zM1623 790h3v1h-3zM1629 790h3v1h-3zM1635 790h3v1h-3zM1641 790h3v1h-3zM1647 790h3v1h-3zM1653 790h3v1h-3zM1659 790h3v1h-3zM1665 790h3v1h-3zM1671 790h3v1h-3z"/>
<path fill="#1e90ff" d="M1481 748h6v1h-6zM1455 749h8v1h-8zM1477 749h4v1h-4zM1487 749h5v1h-5zM1447 750h8v1h-8zM1463 750h14v1h-14zM1492 750h2v1h-2zM1442 751h5v1h-5zM1494 751h2v1h-2zM1496 752h2v1h-2zM1503 752h8v1h-8zM1519 752h5v1h-5zM823 753h6v1h-6zM1439 753h2v1h-2zM1498 753h5v1h-5zM1511 753h8v1h-8zM1524 753h3v1h-3zM802 754h5v1h-5zM815 754h8v1h-8zM829 754h4v1h-4zM839 754h4v1h-4zM977 754h3v1h-3zM1399 754h5v1h-5zM1527 754h2v1h-2zM1577 754h6v1h-6zM800 755h2v1h-2zM807 755h8v1h-8zM833 755h6v1h-6zM973 755h4v1h-4zM980 755h3v1h-3zM1393 755h6v1h-6zM1404 755h3v1h-3zM1529 755h6v1h-6zM1543 755h5v1h-5zM1575 755h2v1h-2zM1583 755h8v1h-8zM969 756h4v1h-4zM983 756h2v1h-2zM991 756h4v1h-4zM1391 756h2v1h-2zM1407 756h2v1h-2zM1415 756h5v1h-5zM1435 756h2v1h-2zM1535 756h8v1h-8zM1548 756h3v1h-3zM1572 756h3v1h-3zM1591 756h4v1h-4zM797 757h2v1h-2zM965 757h4v1h-4zM985 757h6v1h-6zM1137 757h2v1h-2zM1388 757h3v1h-3zM1409 757h6v1h-6zM1420 757h3v1h-3zM1433 757h2v1h-2zM1551 757h2v1h-2zM1567 757h5v1h-5zM74 758h2v1h-2zM795 758h2v1h-2zM962 758h3v1h-3zM1133 758h4v1h-4zM1383 758h5v1h-5zM1423 758h2v1h-2zM1429 758h4v1h-4zM1553 758h14v1h-14zM76 759h3v1h-3zM186 759h9v1h-9zM267 759h2v1h-2zM793 759h2v1h-2zM857 759h14v1h-14zM879 759h4v1h-4zM960 759h2v1h-2zM1129 759h4v1h-4zM1361 759h6v1h-6zM1375 759h8v1h-8zM1425 759h4v1h-4zM71 760h2v1h-2zM79 760h2v1h-2zM184 760h2v1h-2zM269 760h2v1h-2zM791 760h2v1h-2zM855 760h2v1h-2zM871 760h8v1h-8zM883 760h2v1h-2zM1127 760h2v1h-2zM1359 760h2v1h-2zM1367 760h8v1h-8zM81 761h3v1h-3zM788 761h3v1h-3zM852 761h3v1h-3zM885 761h2v1h-2zM957 761h2v1h-2zM1124 761h3v1h-3zM1356 761h3v1h-3zM9 762h3v1h-3zM84 762h2v1h-2zM153 762h2v1h-2zM181 762h2v1h-2zM272 762h2v1h-2zM786 762h2v1h-2zM850 762h2v1h-2zM955 762h2v1h-2zM1114 762h10v1h-10zM1351 762h5v1h-5zM7 763h2v1h-2zM12 763h2v1h-2zM67 763h2v1h-2zM86 763h2v1h-2zM97 763h4v1h-4zM151 763h2v1h-2zM179 763h2v1h-2zM784 763h2v1h-2zM888 763h2v1h-2zM895 763h6v1h-6zM938 763h5v1h-5zM951 763h4v1h-4zM1346 763h5v1h-5zM4 764h3v1h-3zM14 764h2v1h-2zM65 764h2v1h-2zM88 764h2v1h-2zM93 764h4v1h-4zM101 764h4v1h-4zM148 764h3v1h-3zM177 764h2v1h-2zM391 764h6v1h-6zM890 764h5v1h-5zM901 764h4v1h-4zM936 764h2v1h-2zM943 764h8v1h-8zM1344 764h2v1h-2zM2 765h2v1h-2zM16 765h2v1h-2zM41 765h3v1h-3zM63 765h2v1h-2zM90 765h3v1h-3zM105 765h3v1h-3zM145 765h3v1h-3zM173 765h4v1h-4zM385 765h6v1h-6zM397 765h4v1h-4zM781 765h2v1h-2zM905 765h4v1h-4zM934 765h2v1h-2zM1342 765h2v1h-2zM18 766h3v1h-3zM37 766h4v1h-4zM44 766h3v1h-3zM60 766h3v1h-3zM108 766h3v1h-3zM143 766h2v1h-2zM170 766h3v1h-3zM247 766h12v1h-12zM383 766h2v1h-2zM401 766h4v1h-4zM779 766h2v1h-2zM909 766h4v1h-4zM932 766h2v1h-2zM1340 766h2v1h-2zM21 767h4v1h-4zM31 767h6v1h-6zM47 767h2v1h-2zM55 767h5v1h-5zM111 767h2v1h-2zM140 767h3v1h-3zM242 767h5v1h-5zM380 767h3v1h-3zM405 767h4v1h-4zM777 767h2v1h-2zM913 767h19v1h-19zM1337 767h3v1h-3zM1603 767h2v1h-2zM25 768h6v1h-6zM49 768h6v1h-6zM113 768h27v1h-27zM240 768h2v1h-2zM377 768h3v1h-3zM409 768h10v1h-10zM773 768h4v1h-4zM1306 768h13v1h-13zM1333 768h4v1h-4zM1656 768h2v1h-2zM238 769h2v1h-2zM375 769h2v1h-2zM759 769h14v1h-14zM1319 769h14v1h-14zM1641 769h4v1h-4zM1654 769h2v1h-2zM209 770h14v1h-14zM236 770h2v1h-2zM372 770h3v1h-3zM754 770h5v1h-5zM1607 770h2v1h-2zM1617 770h3v1h-3zM1637 770h4v1h-4zM1645 770h4v1h-4zM1652 770h2v1h-2zM207 771h2v1h-2zM223 771h13v1h-13zM370 771h2v1h-2zM421 771h2v1h-2zM519 771h6v1h-6zM1007 771h5v1h-5zM1613 771h4v1h-4zM1620 771h3v1h-3zM1633 771h4v1h-4zM1649 771h3v1h-3zM204 772h3v1h-3zM368 772h2v1h-2zM514 772h5v1h-5zM525 772h4v1h-4zM600 772h2v1h-2zM751 772h2v1h-2zM1002 772h5v1h-5zM1012 772h2v1h-2zM1610 772h3v1h-3zM1623 772h2v1h-2zM1629 772h4v1h-4zM202 773h2v1h-2zM529 773h2v1h-2zM598 773h2v1h-2zM1014 773h2v1h-2zM1031 773h4v1h-4zM1625 773h4v1h-4zM343 774h5v1h-5zM365 774h2v1h-2zM596 774h2v1h-2zM1016 774h2v1h-2zM1023 774h8v1h-8zM1035 774h2v1h-2zM1178 774h2v1h-2zM327 775h16v1h-16zM348 775h3v1h-3zM363 775h2v1h-2zM594 775h2v1h-2zM681 775h4v1h-4zM727 775h16v1h-16zM747 775h2v1h-2zM1018 775h5v1h-5zM1159 775h5v1h-5zM1176 775h2v1h-2zM1180 775h3v1h-3zM1289 775h3v1h-3zM322 776h5v1h-5zM351 776h2v1h-2zM359 776h4v1h-4zM592 776h2v1h-2zM658 776h2v1h-2zM679 776h2v1h-2zM685 776h4v1h-4zM722 776h5v1h-5zM743 776h4v1h-4zM1154 776h5v1h-5zM1164 776h3v1h-3zM1174 776h2v1h-2zM1183 776h2v1h-2zM1285 776h4v1h-4zM1292 776h3v1h-3zM282 777h3v1h-3zM353 777h6v1h-6zM590 777h2v1h-2zM660 777h2v1h-2zM676 777h3v1h-3zM689 777h2v1h-2zM720 777h2v1h-2zM1039 777h2v1h-2zM1167 777h2v1h-2zM1172 777h2v1h-2zM1185 777h6v1h-6zM1279 777h6v1h-6zM1295 777h2v1h-2zM285 778h4v1h-4zM588 778h2v1h-2zM662 778h2v1h-2zM673 778h3v1h-3zM1169 778h3v1h-3zM1191 778h8v1h-8zM1273 778h6v1h-6zM1297 778h2v1h-2zM289 779h3v1h-3zM304 779h2v1h-2zM307 779h2v1h-2zM481 779h14v1h-14zM585 779h3v1h-3zM664 779h2v1h-2zM669 779h4v1h-4zM717 779h2v1h-2zM1199 779h5v1h-5zM1269 779h4v1h-4zM292 780h3v1h-3zM302 780h2v1h-2zM479 780h2v1h-2zM495 780h12v1h-12zM583 780h2v1h-2zM653 780h2v1h-2zM666 780h3v1h-3zM715 780h2v1h-2zM1204 780h3v1h-3zM1266 780h3v1h-3zM295 781h2v1h-2zM300 781h2v1h-2zM476 781h3v1h-3zM580 781h3v1h-3zM1207 781h2v1h-2zM297 782h3v1h-3zM311 782h2v1h-2zM474 782h2v1h-2zM578 782h2v1h-2zM1073 782h6v1h-6zM1209 782h2v1h-2zM538 783h5v1h-5zM576 783h2v1h-2zM1071 783h2v1h-2zM1079 783h8v1h-8zM1211 783h2v1h-2zM543 784h5v1h-5zM574 784h2v1h-2zM611 784h2v1h-2zM648 784h2v1h-2zM1068 784h3v1h-3zM1087 784h5v1h-5zM1213 784h2v1h-2zM548 785h3v1h-3zM572 785h2v1h-2zM646 785h2v1h-2zM698 785h2v1h-2zM709 785h2v1h-2zM1057 785h11v1h-11zM1092 785h3v1h-3zM435 786h2v1h-2zM551 786h2v1h-2zM569 786h3v1h-3zM644 786h2v1h-2zM700 786h3v1h-3zM1053 786h4v1h-4zM1095 786h2v1h-2zM1216 786h2v1h-2zM553 787h6v1h-6zM565 787h4v1h-4zM615 787h2v1h-2zM625 787h19v1h-19zM703 787h2v1h-2zM1050 787h3v1h-3zM1097 787h2v1h-2zM1218 787h2v1h-2zM559 788h6v1h-6zM621 788h4v1h-4zM705 788h2v1h-2zM1220 788h3v1h-3zM1241 788h3v1h-3zM439 789h2v1h-2zM618 789h3v1h-3zM1223 789h2v1h-2zM1239 789h2v1h-2zM1244 789h2v1h-2zM1256 789h2v1h-2zM1225 790h6v1h-6zM1236 790h3v1h-3zM1246 790h2v1h-2zM1254 790h2v1h-2zM442 791h5v1h-5zM1231 791h5v1h-5zM1248 791h2v1h-2zM1252 791h2v1h-2zM447 792h6v1h-6zM1250 792h2v1h-2zM453 793h4v1h-4zM457 794h3v1h-3zM460 795h3v1h-3zM463 796h2v1h-2zM465 797h2v1h-2zM69 762h1v1h-1zM70 761h1v1h-1zM73 759h1v1h-1zM155 763h1v2h-1zM156 765h1v2h-1zM157 767h1v1h-1zM158 768h1v2h-1zM159 770h1v1h-1zM160 771h1v2h-1zM161 773h1v2h-1zM162 775h1v1h-1zM163 774h1v1h-1zM164 773h1v1h-1zM165 772h1v1h-1zM166 770h1v2h-1zM167 769h1v1h-1zM168 768h1v1h-1zM169 767h1v1h-1zM183 761h1v1h-1zM195 760h1v2h-1zM196 762h1v2h-1zM197 764h1v2h-1zM198 766h1v1h-1zM199 767h1v2h-1zM200 769h1v2h-1zM201 771h1v2h-1zM259 765h1v1h-1zM260 764h1v1h-1zM261 763h1v1h-1zM262 762h1v1h-1zM263 761h1v1h-1zM264 760h1v1h-1zM265 759h1v1h-1zM266 758h1v1h-1zM271 761h1v1h-1zM274 763h1v1h-1zM275 764h1v2h-1zM276 766h1v2h-1zM277 768h1v2h-1zM278 770h1v1h-1zM279 771h1v2h-1zM280 773h1v2h-1zM281 775h1v2h-1zM306 778h1v1h-1zM309 780h1v1h-1zM310 781h1v1h-1zM313 783h1v1h-1zM314 784h1v1h-1zM315 783h1v1h-1zM316 782h1v1h-1zM317 781h1v1h-1zM318 780h1v1h-1zM319 779h1v1h-1zM320 778h1v1h-1zM321 777h1v1h-1zM367 773h1v1h-1zM419 769h1v1h-1zM420 770h1v1h-1zM423 772h1v1h-1zM424 773h1v1h-1zM425 774h1v1h-1zM426 775h1v1h-1zM427 776h1v1h-1zM428 777h1v2h-1zM429 779h1v1h-1zM430 780h1v1h-1zM431 781h1v1h-1zM432 782h1v2h-1zM433 784h1v1h-1zM434 785h1v1h-1zM437 787h1v1h-1zM438 788h1v1h-1zM441 790h1v1h-1zM467 795h1v2h-1zM468 793h1v2h-1zM469 791h1v2h-1zM470 789h1v2h-1zM471 787h1v2h-1zM472 785h1v2h-1zM473 783h1v2h-1zM507 779h1v1h-1zM508 778h1v1h-1zM509 777h1v1h-1zM510 776h1v1h-1zM511 775h1v1h-1zM512 774h1v1h-1zM513 773h1v1h-1zM531 774h1v1h-1zM532 775h1v2h-1zM533 777h1v1h-1zM534 778h1v1h-1zM535 779h1v1h-1zM536 780h1v2h-1zM537 782h1v1h-1zM602 771h1v1h-1zM603 772h1v2h-1zM604 774h1v1h-1zM605 775h1v2h-1zM606 777h1v1h-1zM607 778h1v2h-1zM608 780h1v1h-1zM609 781h1v2h-1zM610 783h1v1h-1zM613 785h1v1h-1zM614 786h1v1h-1zM617 788h1v1h-1zM650 783h1v1h-1zM651 782h1v1h-1zM652 781h1v1h-1zM655 779h1v1h-1zM656 778h1v1h-1zM657 777h1v1h-1zM691 778h1v1h-1zM692 779h1v1h-1zM693 780h1v1h-1zM694 781h1v1h-1zM695 782h1v1h-1zM696 783h1v1h-1zM697 784h1v1h-1zM707 787h1v1h-1zM708 786h1v1h-1zM711 784h1v1h-1zM712 783h1v1h-1zM713 782h1v1h-1zM714 781h1v1h-1zM719 778h1v1h-1zM749 774h1v1h-1zM750 773h1v1h-1zM753 771h1v1h-1zM783 764h1v1h-1zM799 756h1v1h-1zM843 755h1v1h-1zM844 756h1v1h-1zM845 757h1v1h-1zM846 758h1v1h-1zM847 759h1v1h-1zM848 760h1v1h-1zM849 761h1v1h-1zM887 762h1v1h-1zM959 760h1v1h-1zM994 757h1v1h-1zM995 758h1v2h-1zM996 760h1v2h-1zM997 762h1v2h-1zM998 764h1v2h-1zM999 766h1v2h-1zM1000 768h1v2h-1zM1001 770h1v2h-1zM1037 775h1v1h-1zM1038 776h1v1h-1zM1041 778h1v1h-1zM1042 779h1v1h-1zM1043 780h1v1h-1zM1044 781h1v1h-1zM1045 782h1v1h-1zM1046 783h1v1h-1zM1047 784h1v1h-1zM1048 785h1v1h-1zM1049 786h1v1h-1zM1099 785h1v2h-1zM1100 784h1v1h-1zM1101 783h1v1h-1zM1102 781h1v2h-1zM1103 780h1v1h-1zM1104 779h1v1h-1zM1105 777h1v2h-1zM1106 776h1v1h-1zM1107 774h1v2h-1zM1108 772h1v2h-1zM1109 770h1v2h-1zM1110 769h1v1h-1zM1111 767h1v2h-1zM1112 765h1v2h-1zM1113 763h1v2h-1zM1139 758h1v1h-1zM1140 759h1v1h-1zM1141 760h1v1h-1zM1142 761h1v1h-1zM1143 762h1v1h-1zM1144 763h1v1h-1zM1145 764h1v1h-1zM1146 765h1v1h-1zM1147 766h1v2h-1zM1148 768h1v1h-1zM1149 769h1v1h-1zM1150 770h1v2h-1zM1151 772h1v1h-1zM1152 773h1v1h-1zM1153 774h1v2h-1zM1215 785h1v1h-1zM1258 788h1v1h-1zM1259 787h1v1h-1zM1260 786h1v1h-1zM1261 785h1v1h-1zM1262 784h1v1h-1zM1263 783h1v1h-1zM1264 782h1v1h-1zM1265 781h1v1h-1zM1299 777h1v1h-1zM1300 775h1v2h-1zM1301 774h1v1h-1zM1302 773h1v1h-1zM1303 772h1v1h-1zM1304 770h1v2h-1zM1305 769h1v1h-1zM1437 755h1v1h-1zM1438 754h1v1h-1zM1441 752h1v1h-1zM1595 757h1v1h-1zM1596 758h1v2h-1zM1597 760h1v1h-1zM1598 761h1v1h-1zM1599 762h1v1h-1zM1600 763h1v2h-1zM1601 765h1v1h-1zM1602 766h1v1h-1zM1605 768h1v1h-1zM1606 769h1v1h-1zM1609 771h1v1h-1zM1658 767h1v1h-1z"/>
</g>
<path fill="#000" d="M1 3h1677v1h-1677zM1 609h1677v1h-1677zM1 3h1v607h-1zM1677 3h1v607h-1z"/>
<path fill="#000" d="M1 611h1677v1h-1677zM1 724h1677v1h-1677zM1 611h1v114h-1zM1677 611h1v114h-1z"/>
<path fill="#000" d="M1 726h1677v1h-1677zM1 818h1677v1h-1677zM1 726h1v93h-1zM1677 726h1v93h-1z"/>
<rect x="1677" y="754" width="1" height="1" fill="#fff"/>
<rect x="1677" y="790" width="1" height="1" fill="#fff"/>
<path fill="#000" d="M1678 12h2v1h-2zM1678 45h2v1h-2zM1678 78h2v1h-2zM1678 111h2v1h-2zM1678 144h2v1h-2zM1678 177h2v1h-2zM1678 210h2v1h-2zM1678 243h2v1h-2zM1678 276h2v1h-2zM1678 309h2v1h-2zM1678 342h2v1h-2zM1678 375h2v1h-2zM1678 408h2v1h-2zM1678 441h2v1h-2zM1678 474h2v1h-2zM1678 507h2v1h-2zM1678 540h2v1h-2zM1678 573h2v1h-2zM1678 606h2v1h-2zM1678 672h2v1h-2zM1678 613h1v1h-1zM1678 723h1v1h-1zM1678 728h1v1h-1zM1678 817h1v1h-1zM2 819h1v3h-1zM66 819h1v3h-1zM130 819h1v3h-1zM194 819h1v3h-1zM258 819h1v3h-1zM322 819h1v3h-1zM386 819h1v3h-1zM450 819h1v3h-1zM514 819h1v3h-1zM578 819h1v3h-1zM642 819h1v3h-1zM706 819h1v3h-1zM770 819h1v3h-1zM834 819h1v3h-1zM898 819h1v3h-1zM962 819h1v3h-1zM1026 819h1v3h-1zM1090 819h1v3h-1zM1154 819h1v3h-1zM1218 819h1v3h-1zM1282 819h1v3h-1zM1346 819h1v3h-1zM1410 819h1v3h-1zM1474 819h1v3h-1zM1538 819h1v3h-1zM1602 819h1v3h-1z"/>
<path fill="#000" d="M5 10h7l-3.5 4.2z" shape-rendering="auto"/>
</g>
<g id="labels">
<text x="1683" y="16" fill="#000" stroke="#000" stroke-width="0.22" textLength="38" lengthAdjust="spacingAndGlyphs">4810.765</text>
<text x="1683" y="49" fill="#000" stroke="#000" stroke-width="0.22" textLength="38" lengthAdjust="spacingAndGlyphs">4792.235</text>
<text x="1683" y="82" fill="#000" stroke="#000" stroke-width="0.22" textLength="38" lengthAdjust="spacingAndGlyphs">4774.250</text>
<text x="1683" y="115" fill="#000" stroke="#000" stroke-width="0.22" textLength="38" lengthAdjust="spacingAndGlyphs">4756.265</text>
<text x="1683" y="148" fill="#000" stroke="#000" stroke-width="0.22" textLength="38" lengthAdjust="spacingAndGlyphs">4738.280</text>
<text x="1683" y="181" fill="#000" stroke="#000" stroke-width="0.22" textLength="38" lengthAdjust="spacingAndGlyphs">4720.295</text>
<text x="1683" y="214" fill="#000" stroke="#000" stroke-width="0.22" textLength="38" lengthAdjust="spacingAndGlyphs">4702.310</text>
<text x="1683" y="247" fill="#000" stroke="#000" stroke-width="0.22" textLength="38" lengthAdjust="spacingAndGlyphs">4684.325</text>
<text x="1683" y="280" fill="#000" stroke="#000" stroke-width="0.22" textLength="38" lengthAdjust="spacingAndGlyphs">4666.340</text>
<text x="1683" y="313" fill="#000" stroke="#000" stroke-width="0.22" textLength="38" lengthAdjust="spacingAndGlyphs">4648.355</text>
<text x="1683" y="346" fill="#000" stroke="#000" stroke-width="0.22" textLength="38" lengthAdjust="spacingAndGlyphs">4629.825</text>
<text x="1683" y="379" fill="#000" stroke="#000" stroke-width="0.22" textLength="38" lengthAdjust="spacingAndGlyphs">4611.840</text>
<text x="1683" y="412" fill="#000" stroke="#000" stroke-width="0.22" textLength="38" lengthAdjust="spacingAndGlyphs">4593.855</text>
<text x="1683" y="445" fill="#000" stroke="#000" stroke-width="0.22" textLength="38" lengthAdjust="spacingAndGlyphs">4575.870</text>
<text x="1683" y="478" fill="#000" stroke="#000" stroke-width="0.22" textLength="38" lengthAdjust="spacingAndGlyphs">4557.885</text>
<text x="1683" y="511" fill="#000" stroke="#000" stroke-width="0.22" textLength="38" lengthAdjust="spacingAndGlyphs">4539.900</text>
<text x="1683" y="544" fill="#000" stroke="#000" stroke-width="0.22" textLength="38" lengthAdjust="spacingAndGlyphs">4521.915</text>
<text x="1683" y="577" fill="#000" stroke="#000" stroke-width="0.22" textLength="38" lengthAdjust="spacingAndGlyphs">4503.930</text>
<text x="1683" y="610" fill="#000" stroke="#000" stroke-width="0.22" textLength="38" lengthAdjust="spacingAndGlyphs">4485.945</text>
</g>
<g shape-rendering="crispEdges">
<rect x="1679" y="25" width="43" height="11" fill="#ff0000"/>
<rect x="1679" y="76" width="43" height="11" fill="#000"/>
<rect x="1679" y="135" width="43" height="11" fill="#32cd32"/>
<rect x="1679" y="208" width="43" height="11" fill="#4169e1"/>
<rect x="1679" y="309" width="43" height="11" fill="#4169e1"/>
</g>
<text x="1683" y="34" fill="#fff" stroke="#fff" stroke-width="0.22" textLength="38" lengthAdjust="spacingAndGlyphs">4800.000</text>
<text x="1683" y="85" fill="#fff" stroke="#fff" stroke-width="0.22" textLength="38" lengthAdjust="spacingAndGlyphs">4773.000</text>
<text x="1683" y="144" fill="#fff" stroke="#fff" stroke-width="0.22" textLength="38" lengthAdjust="spacingAndGlyphs">4740.000</text>
<text x="1683" y="217" fill="#fff" stroke="#fff" stroke-width="0.22" textLength="38" lengthAdjust="spacingAndGlyphs">4700.000</text>
<text x="1683" y="318" fill="#fff" stroke="#fff" stroke-width="0.22" textLength="38" lengthAdjust="spacingAndGlyphs">4645.000</text>
<text x="16.5" y="15" fill="#000" stroke="#000" stroke-width="0.22" textLength="212" lengthAdjust="spacingAndGlyphs">SP500-,H4&#160;&#160;4771.750 4776.750 4771.250 4773.000</text>
<text x="6.5" y="624" fill="#000" stroke="#000" stroke-width="0.22" textLength="132" lengthAdjust="spacingAndGlyphs">MACD(12,26,9) 7.9641 13.8022</text>
<text x="6.5" y="739" fill="#000" stroke="#000" stroke-width="0.22" textLength="67.3" lengthAdjust="spacingAndGlyphs">RSI(14) 55.7380</text>
<text x="1681" y="622" fill="#000" stroke="#000" stroke-width="0.22" textLength="33" lengthAdjust="spacingAndGlyphs">41.8694</text>
<text x="1681" y="676" fill="#000" stroke="#000" stroke-width="0.22" textLength="18" lengthAdjust="spacingAndGlyphs">0.00</text>
<text x="1681" y="721" fill="#000" stroke="#000" stroke-width="0.22" textLength="36" lengthAdjust="spacingAndGlyphs">-35.8856</text>
<text x="1681" y="737" fill="#000" stroke="#000" stroke-width="0.22" textLength="15" lengthAdjust="spacingAndGlyphs">100</text>
<text x="1680" y="758" fill="#000" stroke="#000" stroke-width="0.22" textLength="10" lengthAdjust="spacingAndGlyphs">70</text>
<text x="1680" y="794" fill="#000" stroke="#000" stroke-width="0.22" textLength="10" lengthAdjust="spacingAndGlyphs">30</text>
<text x="1681.5" y="815" fill="#000" stroke="#000" stroke-width="0.22" textLength="5" lengthAdjust="spacingAndGlyphs">0</text>
<text x="1" y="831" fill="#000" stroke="#000" stroke-width="0.22" textLength="54" lengthAdjust="spacingAndGlyphs">15 Nov 2021</text>
<text x="65" y="831" fill="#000" stroke="#000" stroke-width="0.22" textLength="57" lengthAdjust="spacingAndGlyphs">16 Nov 12:00</text>
<text x="129" y="831" fill="#000" stroke="#000" stroke-width="0.22" textLength="57" lengthAdjust="spacingAndGlyphs">17 Nov 20:00</text>
<text x="193" y="831" fill="#000" stroke="#000" stroke-width="0.22" textLength="57" lengthAdjust="spacingAndGlyphs">19 Nov 04:00</text>
<text x="257" y="831" fill="#000" stroke="#000" stroke-width="0.22" textLength="57" lengthAdjust="spacingAndGlyphs">22 Nov 08:00</text>
<text x="321" y="831" fill="#000" stroke="#000" stroke-width="0.22" textLength="57" lengthAdjust="spacingAndGlyphs">23 Nov 16:00</text>
<text x="385" y="831" fill="#000" stroke="#000" stroke-width="0.22" textLength="57" lengthAdjust="spacingAndGlyphs">25 Nov 00:00</text>
<text x="449" y="831" fill="#000" stroke="#000" stroke-width="0.22" textLength="57" lengthAdjust="spacingAndGlyphs">26 Nov 08:00</text>
<text x="513" y="831" fill="#000" stroke="#000" stroke-width="0.22" textLength="57" lengthAdjust="spacingAndGlyphs">29 Nov 16:00</text>
<text x="577" y="831" fill="#000" stroke="#000" stroke-width="0.22" textLength="50.5" lengthAdjust="spacingAndGlyphs">1 Dec 00:00</text>
<text x="641" y="831" fill="#000" stroke="#000" stroke-width="0.22" textLength="50.5" lengthAdjust="spacingAndGlyphs">2 Dec 08:00</text>
<text x="705" y="831" fill="#000" stroke="#000" stroke-width="0.22" textLength="50.5" lengthAdjust="spacingAndGlyphs">3 Dec 16:00</text>
<text x="769" y="831" fill="#000" stroke="#000" stroke-width="0.22" textLength="50.5" lengthAdjust="spacingAndGlyphs">6 Dec 20:00</text>
<text x="833" y="831" fill="#000" stroke="#000" stroke-width="0.22" textLength="50.5" lengthAdjust="spacingAndGlyphs">8 Dec 04:00</text>
<text x="897" y="831" fill="#000" stroke="#000" stroke-width="0.22" textLength="50.5" lengthAdjust="spacingAndGlyphs">9 Dec 12:00</text>
<text x="961" y="831" fill="#000" stroke="#000" stroke-width="0.22" textLength="55.5" lengthAdjust="spacingAndGlyphs">10 Dec 20:00</text>
<text x="1025" y="831" fill="#000" stroke="#000" stroke-width="0.22" textLength="55.5" lengthAdjust="spacingAndGlyphs">14 Dec 00:00</text>
<text x="1089" y="831" fill="#000" stroke="#000" stroke-width="0.22" textLength="55.5" lengthAdjust="spacingAndGlyphs">15 Dec 08:00</text>
<text x="1153" y="831" fill="#000" stroke="#000" stroke-width="0.22" textLength="55.5" lengthAdjust="spacingAndGlyphs">16 Dec 16:00</text>
<text x="1217" y="831" fill="#000" stroke="#000" stroke-width="0.22" textLength="55.5" lengthAdjust="spacingAndGlyphs">19 Dec 23:00</text>
<text x="1281" y="831" fill="#000" stroke="#000" stroke-width="0.22" textLength="55.5" lengthAdjust="spacingAndGlyphs">21 Dec 04:00</text>
<text x="1345" y="831" fill="#000" stroke="#000" stroke-width="0.22" textLength="55.5" lengthAdjust="spacingAndGlyphs">22 Dec 12:00</text>
<text x="1409" y="831" fill="#000" stroke="#000" stroke-width="0.22" textLength="55.5" lengthAdjust="spacingAndGlyphs">23 Dec 20:00</text>
<text x="1473" y="831" fill="#000" stroke="#000" stroke-width="0.22" textLength="55.5" lengthAdjust="spacingAndGlyphs">28 Dec 04:00</text>
<text x="1537" y="831" fill="#000" stroke="#000" stroke-width="0.22" textLength="55.5" lengthAdjust="spacingAndGlyphs">29 Dec 12:00</text>
<text x="1601" y="831" fill="#000" stroke="#000" stroke-width="0.22" textLength="55.5" lengthAdjust="spacingAndGlyphs">30 Dec 20:00</text>
<text class="ann" x="1386.5" y="476" fill="#ed1c24"><tspan font-size="33.5">多空转折点</tspan><tspan font-size="35" dx="-1.8" dy="-1.2">4740</tspan></text>
</svg></body></html>
